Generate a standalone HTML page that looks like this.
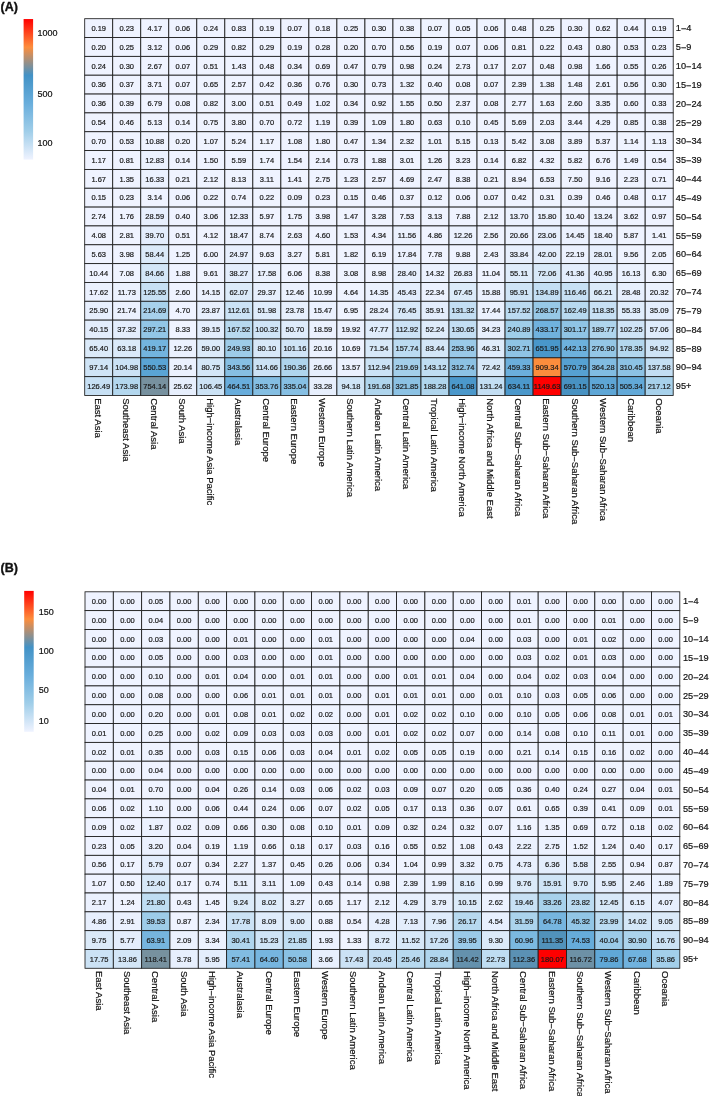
<!DOCTYPE html>
<html lang="en"><head><meta charset="utf-8"><title>Heatmap</title>
<style>html,body{margin:0;padding:0;background:#fff}body{width:709px;height:1096px;overflow:hidden}svg{display:block}</style>
</head><body>
<svg width="709" height="1096" viewBox="0 0 709 1096" font-family="'Liberation Sans', Arial, Helvetica, sans-serif">
<defs><linearGradient id="lg" x1="0" y1="1" x2="0" y2="0">
<stop offset="0.000" stop-color="#EFF3FF"/>
<stop offset="0.200" stop-color="#A0CEE9"/>
<stop offset="0.400" stop-color="#69AEDC"/>
<stop offset="0.600" stop-color="#4292C6"/>
<stop offset="0.800" stop-color="#FD8D3C"/>
<stop offset="1.000" stop-color="#FF0000"/>
</linearGradient></defs>
<rect width="709" height="1096" fill="#fff"/>
<text x="0.6" y="10.8" font-size="12.5" font-weight="bold" fill="#111" stroke="#111" stroke-width="0.35">(A)</text>
<rect x="23.6" y="19.05" width="9.50" height="140.55" fill="url(#lg)"/>
<g font-size="9" fill="#111" stroke="#111" stroke-width="0.2">
<text x="37.4" y="36.10">1000</text>
<text x="37.4" y="97.40">500</text>
<text x="37.4" y="146.00">100</text>
</g>
<g stroke="#1c1c1c" stroke-width="0.85">
<rect x="84.70" y="18.70" width="28.02" height="18.84" fill="#eff3ff"/>
<rect x="112.72" y="18.70" width="28.02" height="18.84" fill="#eff3ff"/>
<rect x="140.75" y="18.70" width="28.02" height="18.84" fill="#eff3ff"/>
<rect x="168.77" y="18.70" width="28.02" height="18.84" fill="#eff3ff"/>
<rect x="196.80" y="18.70" width="28.02" height="18.84" fill="#eff3ff"/>
<rect x="224.82" y="18.70" width="28.02" height="18.84" fill="#eff3ff"/>
<rect x="252.84" y="18.70" width="28.02" height="18.84" fill="#eff3ff"/>
<rect x="280.87" y="18.70" width="28.02" height="18.84" fill="#eff3ff"/>
<rect x="308.89" y="18.70" width="28.02" height="18.84" fill="#eff3ff"/>
<rect x="336.91" y="18.70" width="28.02" height="18.84" fill="#eff3ff"/>
<rect x="364.94" y="18.70" width="28.02" height="18.84" fill="#eff3ff"/>
<rect x="392.96" y="18.70" width="28.02" height="18.84" fill="#eff3ff"/>
<rect x="420.99" y="18.70" width="28.02" height="18.84" fill="#eff3ff"/>
<rect x="449.01" y="18.70" width="28.02" height="18.84" fill="#eff3ff"/>
<rect x="477.03" y="18.70" width="28.02" height="18.84" fill="#eff3ff"/>
<rect x="505.06" y="18.70" width="28.02" height="18.84" fill="#eff3ff"/>
<rect x="533.08" y="18.70" width="28.02" height="18.84" fill="#eff3ff"/>
<rect x="561.10" y="18.70" width="28.02" height="18.84" fill="#eff3ff"/>
<rect x="589.13" y="18.70" width="28.02" height="18.84" fill="#eff3ff"/>
<rect x="617.15" y="18.70" width="28.02" height="18.84" fill="#eff3ff"/>
<rect x="645.18" y="18.70" width="28.02" height="18.84" fill="#eff3ff"/>
<rect x="84.70" y="37.54" width="28.02" height="18.84" fill="#eff3ff"/>
<rect x="112.72" y="37.54" width="28.02" height="18.84" fill="#eff3ff"/>
<rect x="140.75" y="37.54" width="28.02" height="18.84" fill="#eff3ff"/>
<rect x="168.77" y="37.54" width="28.02" height="18.84" fill="#eff3ff"/>
<rect x="196.80" y="37.54" width="28.02" height="18.84" fill="#eff3ff"/>
<rect x="224.82" y="37.54" width="28.02" height="18.84" fill="#eff3ff"/>
<rect x="252.84" y="37.54" width="28.02" height="18.84" fill="#eff3ff"/>
<rect x="280.87" y="37.54" width="28.02" height="18.84" fill="#eff3ff"/>
<rect x="308.89" y="37.54" width="28.02" height="18.84" fill="#eff3ff"/>
<rect x="336.91" y="37.54" width="28.02" height="18.84" fill="#eff3ff"/>
<rect x="364.94" y="37.54" width="28.02" height="18.84" fill="#eff3ff"/>
<rect x="392.96" y="37.54" width="28.02" height="18.84" fill="#eff3ff"/>
<rect x="420.99" y="37.54" width="28.02" height="18.84" fill="#eff3ff"/>
<rect x="449.01" y="37.54" width="28.02" height="18.84" fill="#eff3ff"/>
<rect x="477.03" y="37.54" width="28.02" height="18.84" fill="#eff3ff"/>
<rect x="505.06" y="37.54" width="28.02" height="18.84" fill="#eff3ff"/>
<rect x="533.08" y="37.54" width="28.02" height="18.84" fill="#eff3ff"/>
<rect x="561.10" y="37.54" width="28.02" height="18.84" fill="#eff3ff"/>
<rect x="589.13" y="37.54" width="28.02" height="18.84" fill="#eff3ff"/>
<rect x="617.15" y="37.54" width="28.02" height="18.84" fill="#eff3ff"/>
<rect x="645.18" y="37.54" width="28.02" height="18.84" fill="#eff3ff"/>
<rect x="84.70" y="56.38" width="28.02" height="18.84" fill="#eff3ff"/>
<rect x="112.72" y="56.38" width="28.02" height="18.84" fill="#eff3ff"/>
<rect x="140.75" y="56.38" width="28.02" height="18.84" fill="#eff3ff"/>
<rect x="168.77" y="56.38" width="28.02" height="18.84" fill="#eff3ff"/>
<rect x="196.80" y="56.38" width="28.02" height="18.84" fill="#eff3ff"/>
<rect x="224.82" y="56.38" width="28.02" height="18.84" fill="#eff3ff"/>
<rect x="252.84" y="56.38" width="28.02" height="18.84" fill="#eff3ff"/>
<rect x="280.87" y="56.38" width="28.02" height="18.84" fill="#eff3ff"/>
<rect x="308.89" y="56.38" width="28.02" height="18.84" fill="#eff3ff"/>
<rect x="336.91" y="56.38" width="28.02" height="18.84" fill="#eff3ff"/>
<rect x="364.94" y="56.38" width="28.02" height="18.84" fill="#eff3ff"/>
<rect x="392.96" y="56.38" width="28.02" height="18.84" fill="#eff3ff"/>
<rect x="420.99" y="56.38" width="28.02" height="18.84" fill="#eff3ff"/>
<rect x="449.01" y="56.38" width="28.02" height="18.84" fill="#eff3ff"/>
<rect x="477.03" y="56.38" width="28.02" height="18.84" fill="#eff3ff"/>
<rect x="505.06" y="56.38" width="28.02" height="18.84" fill="#eff3ff"/>
<rect x="533.08" y="56.38" width="28.02" height="18.84" fill="#eff3ff"/>
<rect x="561.10" y="56.38" width="28.02" height="18.84" fill="#eff3ff"/>
<rect x="589.13" y="56.38" width="28.02" height="18.84" fill="#eff3ff"/>
<rect x="617.15" y="56.38" width="28.02" height="18.84" fill="#eff3ff"/>
<rect x="645.18" y="56.38" width="28.02" height="18.84" fill="#eff3ff"/>
<rect x="84.70" y="75.22" width="28.02" height="18.84" fill="#eff3ff"/>
<rect x="112.72" y="75.22" width="28.02" height="18.84" fill="#eff3ff"/>
<rect x="140.75" y="75.22" width="28.02" height="18.84" fill="#eff3ff"/>
<rect x="168.77" y="75.22" width="28.02" height="18.84" fill="#eff3ff"/>
<rect x="196.80" y="75.22" width="28.02" height="18.84" fill="#eff3ff"/>
<rect x="224.82" y="75.22" width="28.02" height="18.84" fill="#eff3ff"/>
<rect x="252.84" y="75.22" width="28.02" height="18.84" fill="#eff3ff"/>
<rect x="280.87" y="75.22" width="28.02" height="18.84" fill="#eff3ff"/>
<rect x="308.89" y="75.22" width="28.02" height="18.84" fill="#eff3ff"/>
<rect x="336.91" y="75.22" width="28.02" height="18.84" fill="#eff3ff"/>
<rect x="364.94" y="75.22" width="28.02" height="18.84" fill="#eff3ff"/>
<rect x="392.96" y="75.22" width="28.02" height="18.84" fill="#eff3ff"/>
<rect x="420.99" y="75.22" width="28.02" height="18.84" fill="#eff3ff"/>
<rect x="449.01" y="75.22" width="28.02" height="18.84" fill="#eff3ff"/>
<rect x="477.03" y="75.22" width="28.02" height="18.84" fill="#eff3ff"/>
<rect x="505.06" y="75.22" width="28.02" height="18.84" fill="#eff3ff"/>
<rect x="533.08" y="75.22" width="28.02" height="18.84" fill="#eff3ff"/>
<rect x="561.10" y="75.22" width="28.02" height="18.84" fill="#eff3ff"/>
<rect x="589.13" y="75.22" width="28.02" height="18.84" fill="#eff3ff"/>
<rect x="617.15" y="75.22" width="28.02" height="18.84" fill="#eff3ff"/>
<rect x="645.18" y="75.22" width="28.02" height="18.84" fill="#eff3ff"/>
<rect x="84.70" y="94.06" width="28.02" height="18.84" fill="#eff3ff"/>
<rect x="112.72" y="94.06" width="28.02" height="18.84" fill="#eff3ff"/>
<rect x="140.75" y="94.06" width="28.02" height="18.84" fill="#eff3ff"/>
<rect x="168.77" y="94.06" width="28.02" height="18.84" fill="#eff3ff"/>
<rect x="196.80" y="94.06" width="28.02" height="18.84" fill="#eff3ff"/>
<rect x="224.82" y="94.06" width="28.02" height="18.84" fill="#eff3ff"/>
<rect x="252.84" y="94.06" width="28.02" height="18.84" fill="#eff3ff"/>
<rect x="280.87" y="94.06" width="28.02" height="18.84" fill="#eff3ff"/>
<rect x="308.89" y="94.06" width="28.02" height="18.84" fill="#eff3ff"/>
<rect x="336.91" y="94.06" width="28.02" height="18.84" fill="#eff3ff"/>
<rect x="364.94" y="94.06" width="28.02" height="18.84" fill="#eff3ff"/>
<rect x="392.96" y="94.06" width="28.02" height="18.84" fill="#eff3ff"/>
<rect x="420.99" y="94.06" width="28.02" height="18.84" fill="#eff3ff"/>
<rect x="449.01" y="94.06" width="28.02" height="18.84" fill="#eff3ff"/>
<rect x="477.03" y="94.06" width="28.02" height="18.84" fill="#eff3ff"/>
<rect x="505.06" y="94.06" width="28.02" height="18.84" fill="#eff3ff"/>
<rect x="533.08" y="94.06" width="28.02" height="18.84" fill="#eff3ff"/>
<rect x="561.10" y="94.06" width="28.02" height="18.84" fill="#eff3ff"/>
<rect x="589.13" y="94.06" width="28.02" height="18.84" fill="#eff3ff"/>
<rect x="617.15" y="94.06" width="28.02" height="18.84" fill="#eff3ff"/>
<rect x="645.18" y="94.06" width="28.02" height="18.84" fill="#eff3ff"/>
<rect x="84.70" y="112.90" width="28.02" height="18.84" fill="#eff3ff"/>
<rect x="112.72" y="112.90" width="28.02" height="18.84" fill="#eff3ff"/>
<rect x="140.75" y="112.90" width="28.02" height="18.84" fill="#eff3ff"/>
<rect x="168.77" y="112.90" width="28.02" height="18.84" fill="#eff3ff"/>
<rect x="196.80" y="112.90" width="28.02" height="18.84" fill="#eff3ff"/>
<rect x="224.82" y="112.90" width="28.02" height="18.84" fill="#eff3ff"/>
<rect x="252.84" y="112.90" width="28.02" height="18.84" fill="#eff3ff"/>
<rect x="280.87" y="112.90" width="28.02" height="18.84" fill="#eff3ff"/>
<rect x="308.89" y="112.90" width="28.02" height="18.84" fill="#eff3ff"/>
<rect x="336.91" y="112.90" width="28.02" height="18.84" fill="#eff3ff"/>
<rect x="364.94" y="112.90" width="28.02" height="18.84" fill="#eff3ff"/>
<rect x="392.96" y="112.90" width="28.02" height="18.84" fill="#eff3ff"/>
<rect x="420.99" y="112.90" width="28.02" height="18.84" fill="#eff3ff"/>
<rect x="449.01" y="112.90" width="28.02" height="18.84" fill="#eff3ff"/>
<rect x="477.03" y="112.90" width="28.02" height="18.84" fill="#eff3ff"/>
<rect x="505.06" y="112.90" width="28.02" height="18.84" fill="#eff3ff"/>
<rect x="533.08" y="112.90" width="28.02" height="18.84" fill="#eff3ff"/>
<rect x="561.10" y="112.90" width="28.02" height="18.84" fill="#eff3ff"/>
<rect x="589.13" y="112.90" width="28.02" height="18.84" fill="#eff3ff"/>
<rect x="617.15" y="112.90" width="28.02" height="18.84" fill="#eff3ff"/>
<rect x="645.18" y="112.90" width="28.02" height="18.84" fill="#eff3ff"/>
<rect x="84.70" y="131.74" width="28.02" height="18.84" fill="#eff3ff"/>
<rect x="112.72" y="131.74" width="28.02" height="18.84" fill="#eff3ff"/>
<rect x="140.75" y="131.74" width="28.02" height="18.84" fill="#eff3ff"/>
<rect x="168.77" y="131.74" width="28.02" height="18.84" fill="#eff3ff"/>
<rect x="196.80" y="131.74" width="28.02" height="18.84" fill="#eff3ff"/>
<rect x="224.82" y="131.74" width="28.02" height="18.84" fill="#eff3ff"/>
<rect x="252.84" y="131.74" width="28.02" height="18.84" fill="#eff3ff"/>
<rect x="280.87" y="131.74" width="28.02" height="18.84" fill="#eff3ff"/>
<rect x="308.89" y="131.74" width="28.02" height="18.84" fill="#eff3ff"/>
<rect x="336.91" y="131.74" width="28.02" height="18.84" fill="#eff3ff"/>
<rect x="364.94" y="131.74" width="28.02" height="18.84" fill="#eff3ff"/>
<rect x="392.96" y="131.74" width="28.02" height="18.84" fill="#eff3ff"/>
<rect x="420.99" y="131.74" width="28.02" height="18.84" fill="#eff3ff"/>
<rect x="449.01" y="131.74" width="28.02" height="18.84" fill="#eff3ff"/>
<rect x="477.03" y="131.74" width="28.02" height="18.84" fill="#eff3ff"/>
<rect x="505.06" y="131.74" width="28.02" height="18.84" fill="#eff3ff"/>
<rect x="533.08" y="131.74" width="28.02" height="18.84" fill="#eff3ff"/>
<rect x="561.10" y="131.74" width="28.02" height="18.84" fill="#eff3ff"/>
<rect x="589.13" y="131.74" width="28.02" height="18.84" fill="#eff3ff"/>
<rect x="617.15" y="131.74" width="28.02" height="18.84" fill="#eff3ff"/>
<rect x="645.18" y="131.74" width="28.02" height="18.84" fill="#eff3ff"/>
<rect x="84.70" y="150.58" width="28.02" height="18.84" fill="#eff3ff"/>
<rect x="112.72" y="150.58" width="28.02" height="18.84" fill="#eff3ff"/>
<rect x="140.75" y="150.58" width="28.02" height="18.84" fill="#ebf1fe"/>
<rect x="168.77" y="150.58" width="28.02" height="18.84" fill="#eff3ff"/>
<rect x="196.80" y="150.58" width="28.02" height="18.84" fill="#eff3ff"/>
<rect x="224.82" y="150.58" width="28.02" height="18.84" fill="#eff3ff"/>
<rect x="252.84" y="150.58" width="28.02" height="18.84" fill="#eff3ff"/>
<rect x="280.87" y="150.58" width="28.02" height="18.84" fill="#eff3ff"/>
<rect x="308.89" y="150.58" width="28.02" height="18.84" fill="#eff3ff"/>
<rect x="336.91" y="150.58" width="28.02" height="18.84" fill="#eff3ff"/>
<rect x="364.94" y="150.58" width="28.02" height="18.84" fill="#eff3ff"/>
<rect x="392.96" y="150.58" width="28.02" height="18.84" fill="#eff3ff"/>
<rect x="420.99" y="150.58" width="28.02" height="18.84" fill="#eff3ff"/>
<rect x="449.01" y="150.58" width="28.02" height="18.84" fill="#eff3ff"/>
<rect x="477.03" y="150.58" width="28.02" height="18.84" fill="#eff3ff"/>
<rect x="505.06" y="150.58" width="28.02" height="18.84" fill="#eff3ff"/>
<rect x="533.08" y="150.58" width="28.02" height="18.84" fill="#eff3ff"/>
<rect x="561.10" y="150.58" width="28.02" height="18.84" fill="#eff3ff"/>
<rect x="589.13" y="150.58" width="28.02" height="18.84" fill="#eff3ff"/>
<rect x="617.15" y="150.58" width="28.02" height="18.84" fill="#eff3ff"/>
<rect x="645.18" y="150.58" width="28.02" height="18.84" fill="#eff3ff"/>
<rect x="84.70" y="169.42" width="28.02" height="18.84" fill="#eff3ff"/>
<rect x="112.72" y="169.42" width="28.02" height="18.84" fill="#eff3ff"/>
<rect x="140.75" y="169.42" width="28.02" height="18.84" fill="#ebf1fe"/>
<rect x="168.77" y="169.42" width="28.02" height="18.84" fill="#eff3ff"/>
<rect x="196.80" y="169.42" width="28.02" height="18.84" fill="#eff3ff"/>
<rect x="224.82" y="169.42" width="28.02" height="18.84" fill="#eff3ff"/>
<rect x="252.84" y="169.42" width="28.02" height="18.84" fill="#eff3ff"/>
<rect x="280.87" y="169.42" width="28.02" height="18.84" fill="#eff3ff"/>
<rect x="308.89" y="169.42" width="28.02" height="18.84" fill="#eff3ff"/>
<rect x="336.91" y="169.42" width="28.02" height="18.84" fill="#eff3ff"/>
<rect x="364.94" y="169.42" width="28.02" height="18.84" fill="#eff3ff"/>
<rect x="392.96" y="169.42" width="28.02" height="18.84" fill="#eff3ff"/>
<rect x="420.99" y="169.42" width="28.02" height="18.84" fill="#eff3ff"/>
<rect x="449.01" y="169.42" width="28.02" height="18.84" fill="#eff3ff"/>
<rect x="477.03" y="169.42" width="28.02" height="18.84" fill="#eff3ff"/>
<rect x="505.06" y="169.42" width="28.02" height="18.84" fill="#eff3ff"/>
<rect x="533.08" y="169.42" width="28.02" height="18.84" fill="#eff3ff"/>
<rect x="561.10" y="169.42" width="28.02" height="18.84" fill="#eff3ff"/>
<rect x="589.13" y="169.42" width="28.02" height="18.84" fill="#eff3ff"/>
<rect x="617.15" y="169.42" width="28.02" height="18.84" fill="#eff3ff"/>
<rect x="645.18" y="169.42" width="28.02" height="18.84" fill="#eff3ff"/>
<rect x="84.70" y="188.26" width="28.02" height="18.84" fill="#eff3ff"/>
<rect x="112.72" y="188.26" width="28.02" height="18.84" fill="#eff3ff"/>
<rect x="140.75" y="188.26" width="28.02" height="18.84" fill="#eff3ff"/>
<rect x="168.77" y="188.26" width="28.02" height="18.84" fill="#eff3ff"/>
<rect x="196.80" y="188.26" width="28.02" height="18.84" fill="#eff3ff"/>
<rect x="224.82" y="188.26" width="28.02" height="18.84" fill="#eff3ff"/>
<rect x="252.84" y="188.26" width="28.02" height="18.84" fill="#eff3ff"/>
<rect x="280.87" y="188.26" width="28.02" height="18.84" fill="#eff3ff"/>
<rect x="308.89" y="188.26" width="28.02" height="18.84" fill="#eff3ff"/>
<rect x="336.91" y="188.26" width="28.02" height="18.84" fill="#eff3ff"/>
<rect x="364.94" y="188.26" width="28.02" height="18.84" fill="#eff3ff"/>
<rect x="392.96" y="188.26" width="28.02" height="18.84" fill="#eff3ff"/>
<rect x="420.99" y="188.26" width="28.02" height="18.84" fill="#eff3ff"/>
<rect x="449.01" y="188.26" width="28.02" height="18.84" fill="#eff3ff"/>
<rect x="477.03" y="188.26" width="28.02" height="18.84" fill="#eff3ff"/>
<rect x="505.06" y="188.26" width="28.02" height="18.84" fill="#eff3ff"/>
<rect x="533.08" y="188.26" width="28.02" height="18.84" fill="#eff3ff"/>
<rect x="561.10" y="188.26" width="28.02" height="18.84" fill="#eff3ff"/>
<rect x="589.13" y="188.26" width="28.02" height="18.84" fill="#eff3ff"/>
<rect x="617.15" y="188.26" width="28.02" height="18.84" fill="#eff3ff"/>
<rect x="645.18" y="188.26" width="28.02" height="18.84" fill="#eff3ff"/>
<rect x="84.70" y="207.10" width="28.02" height="18.84" fill="#eff3ff"/>
<rect x="112.72" y="207.10" width="28.02" height="18.84" fill="#eff3ff"/>
<rect x="140.75" y="207.10" width="28.02" height="18.84" fill="#e7effd"/>
<rect x="168.77" y="207.10" width="28.02" height="18.84" fill="#eff3ff"/>
<rect x="196.80" y="207.10" width="28.02" height="18.84" fill="#eff3ff"/>
<rect x="224.82" y="207.10" width="28.02" height="18.84" fill="#ebf1fe"/>
<rect x="252.84" y="207.10" width="28.02" height="18.84" fill="#eff3ff"/>
<rect x="280.87" y="207.10" width="28.02" height="18.84" fill="#eff3ff"/>
<rect x="308.89" y="207.10" width="28.02" height="18.84" fill="#eff3ff"/>
<rect x="336.91" y="207.10" width="28.02" height="18.84" fill="#eff3ff"/>
<rect x="364.94" y="207.10" width="28.02" height="18.84" fill="#eff3ff"/>
<rect x="392.96" y="207.10" width="28.02" height="18.84" fill="#eff3ff"/>
<rect x="420.99" y="207.10" width="28.02" height="18.84" fill="#eff3ff"/>
<rect x="449.01" y="207.10" width="28.02" height="18.84" fill="#eff3ff"/>
<rect x="477.03" y="207.10" width="28.02" height="18.84" fill="#eff3ff"/>
<rect x="505.06" y="207.10" width="28.02" height="18.84" fill="#ebf1fe"/>
<rect x="533.08" y="207.10" width="28.02" height="18.84" fill="#ebf1fe"/>
<rect x="561.10" y="207.10" width="28.02" height="18.84" fill="#eff3ff"/>
<rect x="589.13" y="207.10" width="28.02" height="18.84" fill="#ebf1fe"/>
<rect x="617.15" y="207.10" width="28.02" height="18.84" fill="#eff3ff"/>
<rect x="645.18" y="207.10" width="28.02" height="18.84" fill="#eff3ff"/>
<rect x="84.70" y="225.94" width="28.02" height="18.84" fill="#eff3ff"/>
<rect x="112.72" y="225.94" width="28.02" height="18.84" fill="#eff3ff"/>
<rect x="140.75" y="225.94" width="28.02" height="18.84" fill="#e3edfc"/>
<rect x="168.77" y="225.94" width="28.02" height="18.84" fill="#eff3ff"/>
<rect x="196.80" y="225.94" width="28.02" height="18.84" fill="#eff3ff"/>
<rect x="224.82" y="225.94" width="28.02" height="18.84" fill="#ebf1fe"/>
<rect x="252.84" y="225.94" width="28.02" height="18.84" fill="#eff3ff"/>
<rect x="280.87" y="225.94" width="28.02" height="18.84" fill="#eff3ff"/>
<rect x="308.89" y="225.94" width="28.02" height="18.84" fill="#eff3ff"/>
<rect x="336.91" y="225.94" width="28.02" height="18.84" fill="#eff3ff"/>
<rect x="364.94" y="225.94" width="28.02" height="18.84" fill="#eff3ff"/>
<rect x="392.96" y="225.94" width="28.02" height="18.84" fill="#ebf1fe"/>
<rect x="420.99" y="225.94" width="28.02" height="18.84" fill="#eff3ff"/>
<rect x="449.01" y="225.94" width="28.02" height="18.84" fill="#ebf1fe"/>
<rect x="477.03" y="225.94" width="28.02" height="18.84" fill="#eff3ff"/>
<rect x="505.06" y="225.94" width="28.02" height="18.84" fill="#ebf1fe"/>
<rect x="533.08" y="225.94" width="28.02" height="18.84" fill="#e7effd"/>
<rect x="561.10" y="225.94" width="28.02" height="18.84" fill="#ebf1fe"/>
<rect x="589.13" y="225.94" width="28.02" height="18.84" fill="#ebf1fe"/>
<rect x="617.15" y="225.94" width="28.02" height="18.84" fill="#eff3ff"/>
<rect x="645.18" y="225.94" width="28.02" height="18.84" fill="#eff3ff"/>
<rect x="84.70" y="244.78" width="28.02" height="18.84" fill="#eff3ff"/>
<rect x="112.72" y="244.78" width="28.02" height="18.84" fill="#eff3ff"/>
<rect x="140.75" y="244.78" width="28.02" height="18.84" fill="#dbeaf9"/>
<rect x="168.77" y="244.78" width="28.02" height="18.84" fill="#eff3ff"/>
<rect x="196.80" y="244.78" width="28.02" height="18.84" fill="#eff3ff"/>
<rect x="224.82" y="244.78" width="28.02" height="18.84" fill="#e7effd"/>
<rect x="252.84" y="244.78" width="28.02" height="18.84" fill="#eff3ff"/>
<rect x="280.87" y="244.78" width="28.02" height="18.84" fill="#eff3ff"/>
<rect x="308.89" y="244.78" width="28.02" height="18.84" fill="#eff3ff"/>
<rect x="336.91" y="244.78" width="28.02" height="18.84" fill="#eff3ff"/>
<rect x="364.94" y="244.78" width="28.02" height="18.84" fill="#eff3ff"/>
<rect x="392.96" y="244.78" width="28.02" height="18.84" fill="#ebf1fe"/>
<rect x="420.99" y="244.78" width="28.02" height="18.84" fill="#eff3ff"/>
<rect x="449.01" y="244.78" width="28.02" height="18.84" fill="#eff3ff"/>
<rect x="477.03" y="244.78" width="28.02" height="18.84" fill="#eff3ff"/>
<rect x="505.06" y="244.78" width="28.02" height="18.84" fill="#e7effd"/>
<rect x="533.08" y="244.78" width="28.02" height="18.84" fill="#e3edfc"/>
<rect x="561.10" y="244.78" width="28.02" height="18.84" fill="#ebf1fe"/>
<rect x="589.13" y="244.78" width="28.02" height="18.84" fill="#e7effd"/>
<rect x="617.15" y="244.78" width="28.02" height="18.84" fill="#eff3ff"/>
<rect x="645.18" y="244.78" width="28.02" height="18.84" fill="#eff3ff"/>
<rect x="84.70" y="263.62" width="28.02" height="18.84" fill="#eff3ff"/>
<rect x="112.72" y="263.62" width="28.02" height="18.84" fill="#eff3ff"/>
<rect x="140.75" y="263.62" width="28.02" height="18.84" fill="#d3e6f7"/>
<rect x="168.77" y="263.62" width="28.02" height="18.84" fill="#eff3ff"/>
<rect x="196.80" y="263.62" width="28.02" height="18.84" fill="#eff3ff"/>
<rect x="224.82" y="263.62" width="28.02" height="18.84" fill="#e3edfc"/>
<rect x="252.84" y="263.62" width="28.02" height="18.84" fill="#ebf1fe"/>
<rect x="280.87" y="263.62" width="28.02" height="18.84" fill="#eff3ff"/>
<rect x="308.89" y="263.62" width="28.02" height="18.84" fill="#eff3ff"/>
<rect x="336.91" y="263.62" width="28.02" height="18.84" fill="#eff3ff"/>
<rect x="364.94" y="263.62" width="28.02" height="18.84" fill="#eff3ff"/>
<rect x="392.96" y="263.62" width="28.02" height="18.84" fill="#e7effd"/>
<rect x="420.99" y="263.62" width="28.02" height="18.84" fill="#ebf1fe"/>
<rect x="449.01" y="263.62" width="28.02" height="18.84" fill="#e7effd"/>
<rect x="477.03" y="263.62" width="28.02" height="18.84" fill="#eff3ff"/>
<rect x="505.06" y="263.62" width="28.02" height="18.84" fill="#dfecfb"/>
<rect x="533.08" y="263.62" width="28.02" height="18.84" fill="#d7e8f8"/>
<rect x="561.10" y="263.62" width="28.02" height="18.84" fill="#e3edfc"/>
<rect x="589.13" y="263.62" width="28.02" height="18.84" fill="#e3edfc"/>
<rect x="617.15" y="263.62" width="28.02" height="18.84" fill="#ebf1fe"/>
<rect x="645.18" y="263.62" width="28.02" height="18.84" fill="#eff3ff"/>
<rect x="84.70" y="282.46" width="28.02" height="18.84" fill="#ebf1fe"/>
<rect x="112.72" y="282.46" width="28.02" height="18.84" fill="#ebf1fe"/>
<rect x="140.75" y="282.46" width="28.02" height="18.84" fill="#c7e0f4"/>
<rect x="168.77" y="282.46" width="28.02" height="18.84" fill="#eff3ff"/>
<rect x="196.80" y="282.46" width="28.02" height="18.84" fill="#ebf1fe"/>
<rect x="224.82" y="282.46" width="28.02" height="18.84" fill="#dbeaf9"/>
<rect x="252.84" y="282.46" width="28.02" height="18.84" fill="#e7effd"/>
<rect x="280.87" y="282.46" width="28.02" height="18.84" fill="#ebf1fe"/>
<rect x="308.89" y="282.46" width="28.02" height="18.84" fill="#eff3ff"/>
<rect x="336.91" y="282.46" width="28.02" height="18.84" fill="#eff3ff"/>
<rect x="364.94" y="282.46" width="28.02" height="18.84" fill="#ebf1fe"/>
<rect x="392.96" y="282.46" width="28.02" height="18.84" fill="#e3edfc"/>
<rect x="420.99" y="282.46" width="28.02" height="18.84" fill="#ebf1fe"/>
<rect x="449.01" y="282.46" width="28.02" height="18.84" fill="#dbeaf9"/>
<rect x="477.03" y="282.46" width="28.02" height="18.84" fill="#ebf1fe"/>
<rect x="505.06" y="282.46" width="28.02" height="18.84" fill="#cfe4f6"/>
<rect x="533.08" y="282.46" width="28.02" height="18.84" fill="#c3def3"/>
<rect x="561.10" y="282.46" width="28.02" height="18.84" fill="#c7e0f4"/>
<rect x="589.13" y="282.46" width="28.02" height="18.84" fill="#dbeaf9"/>
<rect x="617.15" y="282.46" width="28.02" height="18.84" fill="#e7effd"/>
<rect x="645.18" y="282.46" width="28.02" height="18.84" fill="#ebf1fe"/>
<rect x="84.70" y="301.30" width="28.02" height="18.84" fill="#e7effd"/>
<rect x="112.72" y="301.30" width="28.02" height="18.84" fill="#ebf1fe"/>
<rect x="140.75" y="301.30" width="28.02" height="18.84" fill="#a7d1eb"/>
<rect x="168.77" y="301.30" width="28.02" height="18.84" fill="#eff3ff"/>
<rect x="196.80" y="301.30" width="28.02" height="18.84" fill="#e7effd"/>
<rect x="224.82" y="301.30" width="28.02" height="18.84" fill="#cbe2f5"/>
<rect x="252.84" y="301.30" width="28.02" height="18.84" fill="#dfecfb"/>
<rect x="280.87" y="301.30" width="28.02" height="18.84" fill="#e7effd"/>
<rect x="308.89" y="301.30" width="28.02" height="18.84" fill="#ebf1fe"/>
<rect x="336.91" y="301.30" width="28.02" height="18.84" fill="#eff3ff"/>
<rect x="364.94" y="301.30" width="28.02" height="18.84" fill="#e7effd"/>
<rect x="392.96" y="301.30" width="28.02" height="18.84" fill="#d7e8f8"/>
<rect x="420.99" y="301.30" width="28.02" height="18.84" fill="#e3edfc"/>
<rect x="449.01" y="301.30" width="28.02" height="18.84" fill="#c3def3"/>
<rect x="477.03" y="301.30" width="28.02" height="18.84" fill="#ebf1fe"/>
<rect x="505.06" y="301.30" width="28.02" height="18.84" fill="#bbdbf1"/>
<rect x="533.08" y="301.30" width="28.02" height="18.84" fill="#97c9e7"/>
<rect x="561.10" y="301.30" width="28.02" height="18.84" fill="#b7d9ef"/>
<rect x="589.13" y="301.30" width="28.02" height="18.84" fill="#c7e0f4"/>
<rect x="617.15" y="301.30" width="28.02" height="18.84" fill="#dfecfb"/>
<rect x="645.18" y="301.30" width="28.02" height="18.84" fill="#e3edfc"/>
<rect x="84.70" y="320.14" width="28.02" height="18.84" fill="#e3edfc"/>
<rect x="112.72" y="320.14" width="28.02" height="18.84" fill="#e3edfc"/>
<rect x="140.75" y="320.14" width="28.02" height="18.84" fill="#92c6e6"/>
<rect x="168.77" y="320.14" width="28.02" height="18.84" fill="#eff3ff"/>
<rect x="196.80" y="320.14" width="28.02" height="18.84" fill="#e3edfc"/>
<rect x="224.82" y="320.14" width="28.02" height="18.84" fill="#b7d9ef"/>
<rect x="252.84" y="320.14" width="28.02" height="18.84" fill="#cfe4f6"/>
<rect x="280.87" y="320.14" width="28.02" height="18.84" fill="#dfecfb"/>
<rect x="308.89" y="320.14" width="28.02" height="18.84" fill="#ebf1fe"/>
<rect x="336.91" y="320.14" width="28.02" height="18.84" fill="#ebf1fe"/>
<rect x="364.94" y="320.14" width="28.02" height="18.84" fill="#dfecfb"/>
<rect x="392.96" y="320.14" width="28.02" height="18.84" fill="#cbe2f5"/>
<rect x="420.99" y="320.14" width="28.02" height="18.84" fill="#dfecfb"/>
<rect x="449.01" y="320.14" width="28.02" height="18.84" fill="#c3def3"/>
<rect x="477.03" y="320.14" width="28.02" height="18.84" fill="#e7effd"/>
<rect x="505.06" y="320.14" width="28.02" height="18.84" fill="#9fcee9"/>
<rect x="533.08" y="320.14" width="28.02" height="18.84" fill="#70b2de"/>
<rect x="561.10" y="320.14" width="28.02" height="18.84" fill="#8fc4e5"/>
<rect x="589.13" y="320.14" width="28.02" height="18.84" fill="#afd5ed"/>
<rect x="617.15" y="320.14" width="28.02" height="18.84" fill="#cfe4f6"/>
<rect x="645.18" y="320.14" width="28.02" height="18.84" fill="#dfecfb"/>
<rect x="84.70" y="338.98" width="28.02" height="18.84" fill="#dbeaf9"/>
<rect x="112.72" y="338.98" width="28.02" height="18.84" fill="#dbeaf9"/>
<rect x="140.75" y="338.98" width="28.02" height="18.84" fill="#73b4de"/>
<rect x="168.77" y="338.98" width="28.02" height="18.84" fill="#ebf1fe"/>
<rect x="196.80" y="338.98" width="28.02" height="18.84" fill="#dbeaf9"/>
<rect x="224.82" y="338.98" width="28.02" height="18.84" fill="#9dcce8"/>
<rect x="252.84" y="338.98" width="28.02" height="18.84" fill="#d7e8f8"/>
<rect x="280.87" y="338.98" width="28.02" height="18.84" fill="#cfe4f6"/>
<rect x="308.89" y="338.98" width="28.02" height="18.84" fill="#ebf1fe"/>
<rect x="336.91" y="338.98" width="28.02" height="18.84" fill="#eff3ff"/>
<rect x="364.94" y="338.98" width="28.02" height="18.84" fill="#d7e8f8"/>
<rect x="392.96" y="338.98" width="28.02" height="18.84" fill="#bbdbf1"/>
<rect x="420.99" y="338.98" width="28.02" height="18.84" fill="#d3e6f7"/>
<rect x="449.01" y="338.98" width="28.02" height="18.84" fill="#9acae8"/>
<rect x="477.03" y="338.98" width="28.02" height="18.84" fill="#dfecfb"/>
<rect x="505.06" y="338.98" width="28.02" height="18.84" fill="#8fc4e5"/>
<rect x="533.08" y="338.98" width="28.02" height="18.84" fill="#4997ca"/>
<rect x="561.10" y="338.98" width="28.02" height="18.84" fill="#6db1dd"/>
<rect x="589.13" y="338.98" width="28.02" height="18.84" fill="#94c7e6"/>
<rect x="617.15" y="338.98" width="28.02" height="18.84" fill="#b3d7ee"/>
<rect x="645.18" y="338.98" width="28.02" height="18.84" fill="#cfe4f6"/>
<rect x="84.70" y="357.82" width="28.02" height="18.84" fill="#cfe4f6"/>
<rect x="112.72" y="357.82" width="28.02" height="18.84" fill="#cbe2f5"/>
<rect x="140.75" y="357.82" width="28.02" height="18.84" fill="#5aa4d4"/>
<rect x="168.77" y="357.82" width="28.02" height="18.84" fill="#ebf1fe"/>
<rect x="196.80" y="357.82" width="28.02" height="18.84" fill="#d3e6f7"/>
<rect x="224.82" y="357.82" width="28.02" height="18.84" fill="#86bfe3"/>
<rect x="252.84" y="357.82" width="28.02" height="18.84" fill="#cbe2f5"/>
<rect x="280.87" y="357.82" width="28.02" height="18.84" fill="#afd5ed"/>
<rect x="308.89" y="357.82" width="28.02" height="18.84" fill="#e7effd"/>
<rect x="336.91" y="357.82" width="28.02" height="18.84" fill="#ebf1fe"/>
<rect x="364.94" y="357.82" width="28.02" height="18.84" fill="#cbe2f5"/>
<rect x="392.96" y="357.82" width="28.02" height="18.84" fill="#a3cfea"/>
<rect x="420.99" y="357.82" width="28.02" height="18.84" fill="#bfddf2"/>
<rect x="449.01" y="357.82" width="28.02" height="18.84" fill="#8cc2e4"/>
<rect x="477.03" y="357.82" width="28.02" height="18.84" fill="#d7e8f8"/>
<rect x="505.06" y="357.82" width="28.02" height="18.84" fill="#6bafdc"/>
<rect x="533.08" y="357.82" width="28.02" height="18.84" fill="#fb8d3d"/>
<rect x="561.10" y="357.82" width="28.02" height="18.84" fill="#56a1d2"/>
<rect x="589.13" y="357.82" width="28.02" height="18.84" fill="#81bce2"/>
<rect x="617.15" y="357.82" width="28.02" height="18.84" fill="#8cc2e4"/>
<rect x="645.18" y="357.82" width="28.02" height="18.84" fill="#c3def3"/>
<rect x="84.70" y="376.66" width="28.02" height="18.84" fill="#c7e0f4"/>
<rect x="112.72" y="376.66" width="28.02" height="18.84" fill="#b3d7ee"/>
<rect x="140.75" y="376.66" width="28.02" height="18.84" fill="#77919f"/>
<rect x="168.77" y="376.66" width="28.02" height="18.84" fill="#e7effd"/>
<rect x="196.80" y="376.66" width="28.02" height="18.84" fill="#cbe2f5"/>
<rect x="224.82" y="376.66" width="28.02" height="18.84" fill="#68addc"/>
<rect x="252.84" y="376.66" width="28.02" height="18.84" fill="#84bee2"/>
<rect x="280.87" y="376.66" width="28.02" height="18.84" fill="#86bfe3"/>
<rect x="308.89" y="376.66" width="28.02" height="18.84" fill="#e7effd"/>
<rect x="336.91" y="376.66" width="28.02" height="18.84" fill="#cfe4f6"/>
<rect x="364.94" y="376.66" width="28.02" height="18.84" fill="#afd5ed"/>
<rect x="392.96" y="376.66" width="28.02" height="18.84" fill="#8cc2e4"/>
<rect x="420.99" y="376.66" width="28.02" height="18.84" fill="#afd5ed"/>
<rect x="449.01" y="376.66" width="28.02" height="18.84" fill="#4b98cb"/>
<rect x="477.03" y="376.66" width="28.02" height="18.84" fill="#c3def3"/>
<rect x="505.06" y="376.66" width="28.02" height="18.84" fill="#4b98cb"/>
<rect x="533.08" y="376.66" width="28.02" height="18.84" fill="#ff0000"/>
<rect x="561.10" y="376.66" width="28.02" height="18.84" fill="#4892c2"/>
<rect x="589.13" y="376.66" width="28.02" height="18.84" fill="#5ea6d6"/>
<rect x="617.15" y="376.66" width="28.02" height="18.84" fill="#62a9d8"/>
<rect x="645.18" y="376.66" width="28.02" height="18.84" fill="#a7d1eb"/>
</g>
<g font-size="7.5" fill="#1a1a1a" stroke="#1a1a1a" stroke-width="0.2" text-anchor="middle">
<text x="98.71" y="30.82">0.19</text>
<text x="126.74" y="30.82">0.23</text>
<text x="154.76" y="30.82">4.17</text>
<text x="182.78" y="30.82">0.06</text>
<text x="210.81" y="30.82">0.24</text>
<text x="238.83" y="30.82">0.83</text>
<text x="266.85" y="30.82">0.19</text>
<text x="294.88" y="30.82">0.07</text>
<text x="322.90" y="30.82">0.18</text>
<text x="350.93" y="30.82">0.25</text>
<text x="378.95" y="30.82">0.30</text>
<text x="406.97" y="30.82">0.38</text>
<text x="435.00" y="30.82">0.07</text>
<text x="463.02" y="30.82">0.05</text>
<text x="491.05" y="30.82">0.06</text>
<text x="519.07" y="30.82">0.48</text>
<text x="547.09" y="30.82">0.25</text>
<text x="575.12" y="30.82">0.30</text>
<text x="603.14" y="30.82">0.62</text>
<text x="631.16" y="30.82">0.44</text>
<text x="659.19" y="30.82">0.19</text>
<text x="98.71" y="49.66">0.20</text>
<text x="126.74" y="49.66">0.25</text>
<text x="154.76" y="49.66">3.12</text>
<text x="182.78" y="49.66">0.06</text>
<text x="210.81" y="49.66">0.29</text>
<text x="238.83" y="49.66">0.82</text>
<text x="266.85" y="49.66">0.29</text>
<text x="294.88" y="49.66">0.19</text>
<text x="322.90" y="49.66">0.28</text>
<text x="350.93" y="49.66">0.20</text>
<text x="378.95" y="49.66">0.70</text>
<text x="406.97" y="49.66">0.56</text>
<text x="435.00" y="49.66">0.19</text>
<text x="463.02" y="49.66">0.07</text>
<text x="491.05" y="49.66">0.06</text>
<text x="519.07" y="49.66">0.81</text>
<text x="547.09" y="49.66">0.22</text>
<text x="575.12" y="49.66">0.43</text>
<text x="603.14" y="49.66">0.80</text>
<text x="631.16" y="49.66">0.53</text>
<text x="659.19" y="49.66">0.23</text>
<text x="98.71" y="68.50">0.24</text>
<text x="126.74" y="68.50">0.30</text>
<text x="154.76" y="68.50">2.67</text>
<text x="182.78" y="68.50">0.07</text>
<text x="210.81" y="68.50">0.51</text>
<text x="238.83" y="68.50">1.43</text>
<text x="266.85" y="68.50">0.48</text>
<text x="294.88" y="68.50">0.34</text>
<text x="322.90" y="68.50">0.69</text>
<text x="350.93" y="68.50">0.47</text>
<text x="378.95" y="68.50">0.79</text>
<text x="406.97" y="68.50">0.98</text>
<text x="435.00" y="68.50">0.24</text>
<text x="463.02" y="68.50">2.73</text>
<text x="491.05" y="68.50">0.17</text>
<text x="519.07" y="68.50">2.07</text>
<text x="547.09" y="68.50">0.48</text>
<text x="575.12" y="68.50">0.98</text>
<text x="603.14" y="68.50">1.66</text>
<text x="631.16" y="68.50">0.55</text>
<text x="659.19" y="68.50">0.26</text>
<text x="98.71" y="87.34">0.36</text>
<text x="126.74" y="87.34">0.37</text>
<text x="154.76" y="87.34">3.71</text>
<text x="182.78" y="87.34">0.07</text>
<text x="210.81" y="87.34">0.65</text>
<text x="238.83" y="87.34">2.57</text>
<text x="266.85" y="87.34">0.42</text>
<text x="294.88" y="87.34">0.36</text>
<text x="322.90" y="87.34">0.76</text>
<text x="350.93" y="87.34">0.30</text>
<text x="378.95" y="87.34">0.73</text>
<text x="406.97" y="87.34">1.32</text>
<text x="435.00" y="87.34">0.40</text>
<text x="463.02" y="87.34">0.08</text>
<text x="491.05" y="87.34">0.07</text>
<text x="519.07" y="87.34">2.39</text>
<text x="547.09" y="87.34">1.38</text>
<text x="575.12" y="87.34">1.48</text>
<text x="603.14" y="87.34">2.61</text>
<text x="631.16" y="87.34">0.56</text>
<text x="659.19" y="87.34">0.30</text>
<text x="98.71" y="106.18">0.36</text>
<text x="126.74" y="106.18">0.39</text>
<text x="154.76" y="106.18">6.79</text>
<text x="182.78" y="106.18">0.08</text>
<text x="210.81" y="106.18">0.82</text>
<text x="238.83" y="106.18">3.00</text>
<text x="266.85" y="106.18">0.51</text>
<text x="294.88" y="106.18">0.49</text>
<text x="322.90" y="106.18">1.02</text>
<text x="350.93" y="106.18">0.34</text>
<text x="378.95" y="106.18">0.92</text>
<text x="406.97" y="106.18">1.55</text>
<text x="435.00" y="106.18">0.50</text>
<text x="463.02" y="106.18">2.37</text>
<text x="491.05" y="106.18">0.08</text>
<text x="519.07" y="106.18">2.77</text>
<text x="547.09" y="106.18">1.63</text>
<text x="575.12" y="106.18">2.60</text>
<text x="603.14" y="106.18">3.35</text>
<text x="631.16" y="106.18">0.60</text>
<text x="659.19" y="106.18">0.33</text>
<text x="98.71" y="125.02">0.54</text>
<text x="126.74" y="125.02">0.46</text>
<text x="154.76" y="125.02">5.13</text>
<text x="182.78" y="125.02">0.14</text>
<text x="210.81" y="125.02">0.75</text>
<text x="238.83" y="125.02">3.80</text>
<text x="266.85" y="125.02">0.70</text>
<text x="294.88" y="125.02">0.72</text>
<text x="322.90" y="125.02">1.19</text>
<text x="350.93" y="125.02">0.39</text>
<text x="378.95" y="125.02">1.09</text>
<text x="406.97" y="125.02">1.80</text>
<text x="435.00" y="125.02">0.63</text>
<text x="463.02" y="125.02">0.10</text>
<text x="491.05" y="125.02">0.45</text>
<text x="519.07" y="125.02">5.69</text>
<text x="547.09" y="125.02">2.03</text>
<text x="575.12" y="125.02">3.44</text>
<text x="603.14" y="125.02">4.29</text>
<text x="631.16" y="125.02">0.85</text>
<text x="659.19" y="125.02">0.38</text>
<text x="98.71" y="143.86">0.70</text>
<text x="126.74" y="143.86">0.53</text>
<text x="154.76" y="143.86">10.88</text>
<text x="182.78" y="143.86">0.20</text>
<text x="210.81" y="143.86">1.07</text>
<text x="238.83" y="143.86">5.24</text>
<text x="266.85" y="143.86">1.17</text>
<text x="294.88" y="143.86">1.08</text>
<text x="322.90" y="143.86">1.80</text>
<text x="350.93" y="143.86">0.47</text>
<text x="378.95" y="143.86">1.34</text>
<text x="406.97" y="143.86">2.32</text>
<text x="435.00" y="143.86">1.01</text>
<text x="463.02" y="143.86">5.15</text>
<text x="491.05" y="143.86">0.13</text>
<text x="519.07" y="143.86">5.42</text>
<text x="547.09" y="143.86">3.08</text>
<text x="575.12" y="143.86">3.89</text>
<text x="603.14" y="143.86">5.37</text>
<text x="631.16" y="143.86">1.14</text>
<text x="659.19" y="143.86">1.13</text>
<text x="98.71" y="162.70">1.17</text>
<text x="126.74" y="162.70">0.81</text>
<text x="154.76" y="162.70">12.83</text>
<text x="182.78" y="162.70">0.14</text>
<text x="210.81" y="162.70">1.50</text>
<text x="238.83" y="162.70">5.59</text>
<text x="266.85" y="162.70">1.74</text>
<text x="294.88" y="162.70">1.54</text>
<text x="322.90" y="162.70">2.14</text>
<text x="350.93" y="162.70">0.73</text>
<text x="378.95" y="162.70">1.88</text>
<text x="406.97" y="162.70">3.01</text>
<text x="435.00" y="162.70">1.26</text>
<text x="463.02" y="162.70">3.23</text>
<text x="491.05" y="162.70">0.14</text>
<text x="519.07" y="162.70">6.82</text>
<text x="547.09" y="162.70">4.32</text>
<text x="575.12" y="162.70">5.82</text>
<text x="603.14" y="162.70">6.76</text>
<text x="631.16" y="162.70">1.49</text>
<text x="659.19" y="162.70">0.54</text>
<text x="98.71" y="181.54">1.67</text>
<text x="126.74" y="181.54">1.35</text>
<text x="154.76" y="181.54">16.33</text>
<text x="182.78" y="181.54">0.21</text>
<text x="210.81" y="181.54">2.12</text>
<text x="238.83" y="181.54">8.13</text>
<text x="266.85" y="181.54">3.11</text>
<text x="294.88" y="181.54">1.41</text>
<text x="322.90" y="181.54">2.75</text>
<text x="350.93" y="181.54">1.23</text>
<text x="378.95" y="181.54">2.57</text>
<text x="406.97" y="181.54">4.69</text>
<text x="435.00" y="181.54">2.47</text>
<text x="463.02" y="181.54">8.38</text>
<text x="491.05" y="181.54">0.21</text>
<text x="519.07" y="181.54">8.94</text>
<text x="547.09" y="181.54">6.53</text>
<text x="575.12" y="181.54">7.50</text>
<text x="603.14" y="181.54">9.16</text>
<text x="631.16" y="181.54">2.23</text>
<text x="659.19" y="181.54">0.71</text>
<text x="98.71" y="200.38">0.15</text>
<text x="126.74" y="200.38">0.23</text>
<text x="154.76" y="200.38">3.14</text>
<text x="182.78" y="200.38">0.06</text>
<text x="210.81" y="200.38">0.22</text>
<text x="238.83" y="200.38">0.74</text>
<text x="266.85" y="200.38">0.22</text>
<text x="294.88" y="200.38">0.09</text>
<text x="322.90" y="200.38">0.23</text>
<text x="350.93" y="200.38">0.15</text>
<text x="378.95" y="200.38">0.46</text>
<text x="406.97" y="200.38">0.37</text>
<text x="435.00" y="200.38">0.12</text>
<text x="463.02" y="200.38">0.06</text>
<text x="491.05" y="200.38">0.07</text>
<text x="519.07" y="200.38">0.42</text>
<text x="547.09" y="200.38">0.31</text>
<text x="575.12" y="200.38">0.39</text>
<text x="603.14" y="200.38">0.46</text>
<text x="631.16" y="200.38">0.48</text>
<text x="659.19" y="200.38">0.17</text>
<text x="98.71" y="219.22">2.74</text>
<text x="126.74" y="219.22">1.76</text>
<text x="154.76" y="219.22">28.59</text>
<text x="182.78" y="219.22">0.40</text>
<text x="210.81" y="219.22">3.06</text>
<text x="238.83" y="219.22">12.33</text>
<text x="266.85" y="219.22">5.97</text>
<text x="294.88" y="219.22">1.75</text>
<text x="322.90" y="219.22">3.98</text>
<text x="350.93" y="219.22">1.47</text>
<text x="378.95" y="219.22">3.28</text>
<text x="406.97" y="219.22">7.53</text>
<text x="435.00" y="219.22">3.13</text>
<text x="463.02" y="219.22">7.88</text>
<text x="491.05" y="219.22">2.12</text>
<text x="519.07" y="219.22">13.70</text>
<text x="547.09" y="219.22">15.80</text>
<text x="575.12" y="219.22">10.40</text>
<text x="603.14" y="219.22">13.24</text>
<text x="631.16" y="219.22">3.62</text>
<text x="659.19" y="219.22">0.97</text>
<text x="98.71" y="238.06">4.08</text>
<text x="126.74" y="238.06">2.81</text>
<text x="154.76" y="238.06">39.70</text>
<text x="182.78" y="238.06">0.51</text>
<text x="210.81" y="238.06">4.12</text>
<text x="238.83" y="238.06">18.47</text>
<text x="266.85" y="238.06">8.74</text>
<text x="294.88" y="238.06">2.63</text>
<text x="322.90" y="238.06">4.60</text>
<text x="350.93" y="238.06">1.53</text>
<text x="378.95" y="238.06">4.34</text>
<text x="406.97" y="238.06">11.56</text>
<text x="435.00" y="238.06">4.86</text>
<text x="463.02" y="238.06">12.26</text>
<text x="491.05" y="238.06">2.56</text>
<text x="519.07" y="238.06">20.66</text>
<text x="547.09" y="238.06">23.06</text>
<text x="575.12" y="238.06">14.45</text>
<text x="603.14" y="238.06">18.40</text>
<text x="631.16" y="238.06">5.87</text>
<text x="659.19" y="238.06">1.41</text>
<text x="98.71" y="256.90">5.63</text>
<text x="126.74" y="256.90">3.98</text>
<text x="154.76" y="256.90">58.44</text>
<text x="182.78" y="256.90">1.25</text>
<text x="210.81" y="256.90">6.00</text>
<text x="238.83" y="256.90">24.97</text>
<text x="266.85" y="256.90">9.63</text>
<text x="294.88" y="256.90">3.27</text>
<text x="322.90" y="256.90">5.81</text>
<text x="350.93" y="256.90">1.82</text>
<text x="378.95" y="256.90">6.19</text>
<text x="406.97" y="256.90">17.84</text>
<text x="435.00" y="256.90">7.78</text>
<text x="463.02" y="256.90">9.88</text>
<text x="491.05" y="256.90">2.43</text>
<text x="519.07" y="256.90">33.84</text>
<text x="547.09" y="256.90">42.00</text>
<text x="575.12" y="256.90">22.19</text>
<text x="603.14" y="256.90">28.01</text>
<text x="631.16" y="256.90">9.56</text>
<text x="659.19" y="256.90">2.05</text>
<text x="98.71" y="275.74">10.44</text>
<text x="126.74" y="275.74">7.08</text>
<text x="154.76" y="275.74">84.66</text>
<text x="182.78" y="275.74">1.88</text>
<text x="210.81" y="275.74">9.61</text>
<text x="238.83" y="275.74">38.27</text>
<text x="266.85" y="275.74">17.58</text>
<text x="294.88" y="275.74">6.06</text>
<text x="322.90" y="275.74">8.38</text>
<text x="350.93" y="275.74">3.08</text>
<text x="378.95" y="275.74">8.98</text>
<text x="406.97" y="275.74">28.40</text>
<text x="435.00" y="275.74">14.32</text>
<text x="463.02" y="275.74">26.83</text>
<text x="491.05" y="275.74">11.04</text>
<text x="519.07" y="275.74">55.11</text>
<text x="547.09" y="275.74">72.06</text>
<text x="575.12" y="275.74">41.36</text>
<text x="603.14" y="275.74">40.95</text>
<text x="631.16" y="275.74">16.13</text>
<text x="659.19" y="275.74">6.30</text>
<text x="98.71" y="294.58">17.62</text>
<text x="126.74" y="294.58">11.73</text>
<text x="154.76" y="294.58">125.55</text>
<text x="182.78" y="294.58">2.60</text>
<text x="210.81" y="294.58">14.15</text>
<text x="238.83" y="294.58">62.07</text>
<text x="266.85" y="294.58">29.37</text>
<text x="294.88" y="294.58">12.46</text>
<text x="322.90" y="294.58">10.99</text>
<text x="350.93" y="294.58">4.64</text>
<text x="378.95" y="294.58">14.35</text>
<text x="406.97" y="294.58">45.43</text>
<text x="435.00" y="294.58">22.34</text>
<text x="463.02" y="294.58">67.45</text>
<text x="491.05" y="294.58">15.88</text>
<text x="519.07" y="294.58">95.91</text>
<text x="547.09" y="294.58">134.89</text>
<text x="575.12" y="294.58">116.46</text>
<text x="603.14" y="294.58">66.21</text>
<text x="631.16" y="294.58">28.48</text>
<text x="659.19" y="294.58">20.32</text>
<text x="98.71" y="313.42">25.90</text>
<text x="126.74" y="313.42">21.74</text>
<text x="154.76" y="313.42">214.69</text>
<text x="182.78" y="313.42">4.70</text>
<text x="210.81" y="313.42">23.87</text>
<text x="238.83" y="313.42">112.61</text>
<text x="266.85" y="313.42">51.98</text>
<text x="294.88" y="313.42">23.78</text>
<text x="322.90" y="313.42">15.47</text>
<text x="350.93" y="313.42">6.95</text>
<text x="378.95" y="313.42">28.24</text>
<text x="406.97" y="313.42">76.45</text>
<text x="435.00" y="313.42">35.91</text>
<text x="463.02" y="313.42">131.32</text>
<text x="491.05" y="313.42">17.44</text>
<text x="519.07" y="313.42">157.52</text>
<text x="547.09" y="313.42">268.57</text>
<text x="575.12" y="313.42">162.49</text>
<text x="603.14" y="313.42">118.35</text>
<text x="631.16" y="313.42">55.33</text>
<text x="659.19" y="313.42">35.09</text>
<text x="98.71" y="332.26">40.15</text>
<text x="126.74" y="332.26">37.32</text>
<text x="154.76" y="332.26">297.21</text>
<text x="182.78" y="332.26">8.33</text>
<text x="210.81" y="332.26">39.15</text>
<text x="238.83" y="332.26">167.52</text>
<text x="266.85" y="332.26">100.32</text>
<text x="294.88" y="332.26">50.70</text>
<text x="322.90" y="332.26">18.59</text>
<text x="350.93" y="332.26">19.92</text>
<text x="378.95" y="332.26">47.77</text>
<text x="406.97" y="332.26">112.92</text>
<text x="435.00" y="332.26">52.24</text>
<text x="463.02" y="332.26">130.65</text>
<text x="491.05" y="332.26">34.23</text>
<text x="519.07" y="332.26">240.89</text>
<text x="547.09" y="332.26">433.17</text>
<text x="575.12" y="332.26">301.17</text>
<text x="603.14" y="332.26">189.77</text>
<text x="631.16" y="332.26">102.25</text>
<text x="659.19" y="332.26">57.06</text>
<text x="98.71" y="351.10">65.40</text>
<text x="126.74" y="351.10">63.18</text>
<text x="154.76" y="351.10">419.17</text>
<text x="182.78" y="351.10">12.26</text>
<text x="210.81" y="351.10">59.00</text>
<text x="238.83" y="351.10">249.93</text>
<text x="266.85" y="351.10">80.10</text>
<text x="294.88" y="351.10">101.16</text>
<text x="322.90" y="351.10">20.16</text>
<text x="350.93" y="351.10">10.69</text>
<text x="378.95" y="351.10">71.54</text>
<text x="406.97" y="351.10">157.74</text>
<text x="435.00" y="351.10">83.44</text>
<text x="463.02" y="351.10">253.96</text>
<text x="491.05" y="351.10">46.31</text>
<text x="519.07" y="351.10">302.71</text>
<text x="547.09" y="351.10">651.95</text>
<text x="575.12" y="351.10">442.13</text>
<text x="603.14" y="351.10">276.90</text>
<text x="631.16" y="351.10">178.35</text>
<text x="659.19" y="351.10">94.92</text>
<text x="98.71" y="369.94">97.14</text>
<text x="126.74" y="369.94">104.98</text>
<text x="154.76" y="369.94">550.53</text>
<text x="182.78" y="369.94">20.14</text>
<text x="210.81" y="369.94">80.75</text>
<text x="238.83" y="369.94">343.56</text>
<text x="266.85" y="369.94">114.66</text>
<text x="294.88" y="369.94">190.36</text>
<text x="322.90" y="369.94">26.66</text>
<text x="350.93" y="369.94">13.57</text>
<text x="378.95" y="369.94">112.94</text>
<text x="406.97" y="369.94">219.69</text>
<text x="435.00" y="369.94">143.12</text>
<text x="463.02" y="369.94">312.74</text>
<text x="491.05" y="369.94">72.42</text>
<text x="519.07" y="369.94">459.33</text>
<text x="547.09" y="369.94">909.34</text>
<text x="575.12" y="369.94">570.79</text>
<text x="603.14" y="369.94">364.28</text>
<text x="631.16" y="369.94">310.45</text>
<text x="659.19" y="369.94">137.58</text>
<text x="98.71" y="388.78">126.49</text>
<text x="126.74" y="388.78">173.98</text>
<text x="154.76" y="388.78">754.14</text>
<text x="182.78" y="388.78">25.62</text>
<text x="210.81" y="388.78">106.45</text>
<text x="238.83" y="388.78">464.51</text>
<text x="266.85" y="388.78">353.76</text>
<text x="294.88" y="388.78">335.04</text>
<text x="322.90" y="388.78">33.28</text>
<text x="350.93" y="388.78">94.18</text>
<text x="378.95" y="388.78">191.68</text>
<text x="406.97" y="388.78">321.85</text>
<text x="435.00" y="388.78">188.28</text>
<text x="463.02" y="388.78">641.08</text>
<text x="491.05" y="388.78">131.24</text>
<text x="519.07" y="388.78">634.11</text>
<text x="547.09" y="388.78">1149.63</text>
<text x="575.12" y="388.78">691.15</text>
<text x="603.14" y="388.78">520.13</text>
<text x="631.16" y="388.78">505.34</text>
<text x="659.19" y="388.78">217.12</text>
</g>
<g font-size="9.2" fill="#111" stroke="#111" stroke-width="0.2">
<text x="675.8" y="31.37">1<tspan dy="0.8">−</tspan><tspan dy="-0.8">4</tspan></text>
<text x="675.8" y="50.21">5<tspan dy="0.8">−</tspan><tspan dy="-0.8">9</tspan></text>
<text x="675.8" y="69.05">10<tspan dy="0.8">−</tspan><tspan dy="-0.8">14</tspan></text>
<text x="675.8" y="87.89">15<tspan dy="0.8">−</tspan><tspan dy="-0.8">19</tspan></text>
<text x="675.8" y="106.73">20<tspan dy="0.8">−</tspan><tspan dy="-0.8">24</tspan></text>
<text x="675.8" y="125.57">25<tspan dy="0.8">−</tspan><tspan dy="-0.8">29</tspan></text>
<text x="675.8" y="144.41">30<tspan dy="0.8">−</tspan><tspan dy="-0.8">34</tspan></text>
<text x="675.8" y="163.25">35<tspan dy="0.8">−</tspan><tspan dy="-0.8">39</tspan></text>
<text x="675.8" y="182.09">40<tspan dy="0.8">−</tspan><tspan dy="-0.8">44</tspan></text>
<text x="675.8" y="200.93">45<tspan dy="0.8">−</tspan><tspan dy="-0.8">49</tspan></text>
<text x="675.8" y="219.77">50<tspan dy="0.8">−</tspan><tspan dy="-0.8">54</tspan></text>
<text x="675.8" y="238.61">55<tspan dy="0.8">−</tspan><tspan dy="-0.8">59</tspan></text>
<text x="675.8" y="257.45">60<tspan dy="0.8">−</tspan><tspan dy="-0.8">64</tspan></text>
<text x="675.8" y="276.29">65<tspan dy="0.8">−</tspan><tspan dy="-0.8">69</tspan></text>
<text x="675.8" y="295.13">70<tspan dy="0.8">−</tspan><tspan dy="-0.8">74</tspan></text>
<text x="675.8" y="313.97">75<tspan dy="0.8">−</tspan><tspan dy="-0.8">79</tspan></text>
<text x="675.8" y="332.81">80<tspan dy="0.8">−</tspan><tspan dy="-0.8">84</tspan></text>
<text x="675.8" y="351.65">85<tspan dy="0.8">−</tspan><tspan dy="-0.8">89</tspan></text>
<text x="675.8" y="370.49">90<tspan dy="0.8">−</tspan><tspan dy="-0.8">94</tspan></text>
<text x="675.8" y="389.33">95+</text>
</g>
<g font-size="9.5" fill="#111" stroke="#111" stroke-width="0.2">
<text transform="translate(95.11,398.20) rotate(90)">East Asia</text>
<text transform="translate(123.14,398.20) rotate(90)">Southeast Asia</text>
<text transform="translate(151.16,398.20) rotate(90)">Central Asia</text>
<text transform="translate(179.18,398.20) rotate(90)">South Asia</text>
<text transform="translate(207.21,398.20) rotate(90)">High<tspan dy="0.6">−</tspan><tspan dy="-0.6">income Asia Pacific</tspan></text>
<text transform="translate(235.23,398.20) rotate(90)">Australasia</text>
<text transform="translate(263.25,398.20) rotate(90)">Central Europe</text>
<text transform="translate(291.28,398.20) rotate(90)">Eastern Europe</text>
<text transform="translate(319.30,398.20) rotate(90)">Western Europe</text>
<text transform="translate(347.33,398.20) rotate(90)">Southern Latin America</text>
<text transform="translate(375.35,398.20) rotate(90)">Andean Latin America</text>
<text transform="translate(403.37,398.20) rotate(90)">Central Latin America</text>
<text transform="translate(431.40,398.20) rotate(90)">Tropical Latin America</text>
<text transform="translate(459.42,398.20) rotate(90)">High<tspan dy="0.6">−</tspan><tspan dy="-0.6">income North America</tspan></text>
<text transform="translate(487.45,398.20) rotate(90)">North Africa and Middle East</text>
<text transform="translate(515.47,398.20) rotate(90)">Central Sub<tspan dy="0.6">−</tspan><tspan dy="-0.6">Saharan Africa</tspan></text>
<text transform="translate(543.49,398.20) rotate(90)">Eastern Sub<tspan dy="0.6">−</tspan><tspan dy="-0.6">Saharan Africa</tspan></text>
<text transform="translate(571.52,398.20) rotate(90)">Southern Sub<tspan dy="0.6">−</tspan><tspan dy="-0.6">Saharan Africa</tspan></text>
<text transform="translate(599.54,398.20) rotate(90)">Western Sub<tspan dy="0.6">−</tspan><tspan dy="-0.6">Saharan Africa</tspan></text>
<text transform="translate(627.56,398.20) rotate(90)">Caribbean</text>
<text transform="translate(655.59,398.20) rotate(90)">Oceania</text>
</g>
<text x="0.6" y="571.8" font-size="12.5" font-weight="bold" fill="#111" stroke="#111" stroke-width="0.35">(B)</text>
<rect x="24.2" y="590.9" width="9.50" height="140.90" fill="url(#lg)"/>
<g font-size="9" fill="#111" stroke="#111" stroke-width="0.2">
<text x="38.8" y="614.80">150</text>
<text x="38.8" y="653.90">100</text>
<text x="38.8" y="693.20">50</text>
<text x="38.8" y="724.00">10</text>
</g>
<g stroke="#1c1c1c" stroke-width="0.85">
<rect x="85.00" y="591.80" width="28.32" height="18.82" fill="#eff3ff"/>
<rect x="113.32" y="591.80" width="28.32" height="18.82" fill="#eff3ff"/>
<rect x="141.65" y="591.80" width="28.32" height="18.82" fill="#eff3ff"/>
<rect x="169.97" y="591.80" width="28.32" height="18.82" fill="#eff3ff"/>
<rect x="198.30" y="591.80" width="28.32" height="18.82" fill="#eff3ff"/>
<rect x="226.62" y="591.80" width="28.32" height="18.82" fill="#eff3ff"/>
<rect x="254.94" y="591.80" width="28.32" height="18.82" fill="#eff3ff"/>
<rect x="283.27" y="591.80" width="28.32" height="18.82" fill="#eff3ff"/>
<rect x="311.59" y="591.80" width="28.32" height="18.82" fill="#eff3ff"/>
<rect x="339.91" y="591.80" width="28.32" height="18.82" fill="#eff3ff"/>
<rect x="368.24" y="591.80" width="28.32" height="18.82" fill="#eff3ff"/>
<rect x="396.56" y="591.80" width="28.32" height="18.82" fill="#eff3ff"/>
<rect x="424.89" y="591.80" width="28.32" height="18.82" fill="#eff3ff"/>
<rect x="453.21" y="591.80" width="28.32" height="18.82" fill="#eff3ff"/>
<rect x="481.53" y="591.80" width="28.32" height="18.82" fill="#eff3ff"/>
<rect x="509.86" y="591.80" width="28.32" height="18.82" fill="#eff3ff"/>
<rect x="538.18" y="591.80" width="28.32" height="18.82" fill="#eff3ff"/>
<rect x="566.50" y="591.80" width="28.32" height="18.82" fill="#eff3ff"/>
<rect x="594.83" y="591.80" width="28.32" height="18.82" fill="#eff3ff"/>
<rect x="623.15" y="591.80" width="28.32" height="18.82" fill="#eff3ff"/>
<rect x="651.48" y="591.80" width="28.32" height="18.82" fill="#eff3ff"/>
<rect x="85.00" y="610.62" width="28.32" height="18.82" fill="#eff3ff"/>
<rect x="113.32" y="610.62" width="28.32" height="18.82" fill="#eff3ff"/>
<rect x="141.65" y="610.62" width="28.32" height="18.82" fill="#eff3ff"/>
<rect x="169.97" y="610.62" width="28.32" height="18.82" fill="#eff3ff"/>
<rect x="198.30" y="610.62" width="28.32" height="18.82" fill="#eff3ff"/>
<rect x="226.62" y="610.62" width="28.32" height="18.82" fill="#eff3ff"/>
<rect x="254.94" y="610.62" width="28.32" height="18.82" fill="#eff3ff"/>
<rect x="283.27" y="610.62" width="28.32" height="18.82" fill="#eff3ff"/>
<rect x="311.59" y="610.62" width="28.32" height="18.82" fill="#eff3ff"/>
<rect x="339.91" y="610.62" width="28.32" height="18.82" fill="#eff3ff"/>
<rect x="368.24" y="610.62" width="28.32" height="18.82" fill="#eff3ff"/>
<rect x="396.56" y="610.62" width="28.32" height="18.82" fill="#eff3ff"/>
<rect x="424.89" y="610.62" width="28.32" height="18.82" fill="#eff3ff"/>
<rect x="453.21" y="610.62" width="28.32" height="18.82" fill="#eff3ff"/>
<rect x="481.53" y="610.62" width="28.32" height="18.82" fill="#eff3ff"/>
<rect x="509.86" y="610.62" width="28.32" height="18.82" fill="#eff3ff"/>
<rect x="538.18" y="610.62" width="28.32" height="18.82" fill="#eff3ff"/>
<rect x="566.50" y="610.62" width="28.32" height="18.82" fill="#eff3ff"/>
<rect x="594.83" y="610.62" width="28.32" height="18.82" fill="#eff3ff"/>
<rect x="623.15" y="610.62" width="28.32" height="18.82" fill="#eff3ff"/>
<rect x="651.48" y="610.62" width="28.32" height="18.82" fill="#eff3ff"/>
<rect x="85.00" y="629.45" width="28.32" height="18.82" fill="#eff3ff"/>
<rect x="113.32" y="629.45" width="28.32" height="18.82" fill="#eff3ff"/>
<rect x="141.65" y="629.45" width="28.32" height="18.82" fill="#eff3ff"/>
<rect x="169.97" y="629.45" width="28.32" height="18.82" fill="#eff3ff"/>
<rect x="198.30" y="629.45" width="28.32" height="18.82" fill="#eff3ff"/>
<rect x="226.62" y="629.45" width="28.32" height="18.82" fill="#eff3ff"/>
<rect x="254.94" y="629.45" width="28.32" height="18.82" fill="#eff3ff"/>
<rect x="283.27" y="629.45" width="28.32" height="18.82" fill="#eff3ff"/>
<rect x="311.59" y="629.45" width="28.32" height="18.82" fill="#eff3ff"/>
<rect x="339.91" y="629.45" width="28.32" height="18.82" fill="#eff3ff"/>
<rect x="368.24" y="629.45" width="28.32" height="18.82" fill="#eff3ff"/>
<rect x="396.56" y="629.45" width="28.32" height="18.82" fill="#eff3ff"/>
<rect x="424.89" y="629.45" width="28.32" height="18.82" fill="#eff3ff"/>
<rect x="453.21" y="629.45" width="28.32" height="18.82" fill="#eff3ff"/>
<rect x="481.53" y="629.45" width="28.32" height="18.82" fill="#eff3ff"/>
<rect x="509.86" y="629.45" width="28.32" height="18.82" fill="#eff3ff"/>
<rect x="538.18" y="629.45" width="28.32" height="18.82" fill="#eff3ff"/>
<rect x="566.50" y="629.45" width="28.32" height="18.82" fill="#eff3ff"/>
<rect x="594.83" y="629.45" width="28.32" height="18.82" fill="#eff3ff"/>
<rect x="623.15" y="629.45" width="28.32" height="18.82" fill="#eff3ff"/>
<rect x="651.48" y="629.45" width="28.32" height="18.82" fill="#eff3ff"/>
<rect x="85.00" y="648.27" width="28.32" height="18.82" fill="#eff3ff"/>
<rect x="113.32" y="648.27" width="28.32" height="18.82" fill="#eff3ff"/>
<rect x="141.65" y="648.27" width="28.32" height="18.82" fill="#eff3ff"/>
<rect x="169.97" y="648.27" width="28.32" height="18.82" fill="#eff3ff"/>
<rect x="198.30" y="648.27" width="28.32" height="18.82" fill="#eff3ff"/>
<rect x="226.62" y="648.27" width="28.32" height="18.82" fill="#eff3ff"/>
<rect x="254.94" y="648.27" width="28.32" height="18.82" fill="#eff3ff"/>
<rect x="283.27" y="648.27" width="28.32" height="18.82" fill="#eff3ff"/>
<rect x="311.59" y="648.27" width="28.32" height="18.82" fill="#eff3ff"/>
<rect x="339.91" y="648.27" width="28.32" height="18.82" fill="#eff3ff"/>
<rect x="368.24" y="648.27" width="28.32" height="18.82" fill="#eff3ff"/>
<rect x="396.56" y="648.27" width="28.32" height="18.82" fill="#eff3ff"/>
<rect x="424.89" y="648.27" width="28.32" height="18.82" fill="#eff3ff"/>
<rect x="453.21" y="648.27" width="28.32" height="18.82" fill="#eff3ff"/>
<rect x="481.53" y="648.27" width="28.32" height="18.82" fill="#eff3ff"/>
<rect x="509.86" y="648.27" width="28.32" height="18.82" fill="#eff3ff"/>
<rect x="538.18" y="648.27" width="28.32" height="18.82" fill="#eff3ff"/>
<rect x="566.50" y="648.27" width="28.32" height="18.82" fill="#eff3ff"/>
<rect x="594.83" y="648.27" width="28.32" height="18.82" fill="#eff3ff"/>
<rect x="623.15" y="648.27" width="28.32" height="18.82" fill="#eff3ff"/>
<rect x="651.48" y="648.27" width="28.32" height="18.82" fill="#eff3ff"/>
<rect x="85.00" y="667.10" width="28.32" height="18.82" fill="#eff3ff"/>
<rect x="113.32" y="667.10" width="28.32" height="18.82" fill="#eff3ff"/>
<rect x="141.65" y="667.10" width="28.32" height="18.82" fill="#eff3ff"/>
<rect x="169.97" y="667.10" width="28.32" height="18.82" fill="#eff3ff"/>
<rect x="198.30" y="667.10" width="28.32" height="18.82" fill="#eff3ff"/>
<rect x="226.62" y="667.10" width="28.32" height="18.82" fill="#eff3ff"/>
<rect x="254.94" y="667.10" width="28.32" height="18.82" fill="#eff3ff"/>
<rect x="283.27" y="667.10" width="28.32" height="18.82" fill="#eff3ff"/>
<rect x="311.59" y="667.10" width="28.32" height="18.82" fill="#eff3ff"/>
<rect x="339.91" y="667.10" width="28.32" height="18.82" fill="#eff3ff"/>
<rect x="368.24" y="667.10" width="28.32" height="18.82" fill="#eff3ff"/>
<rect x="396.56" y="667.10" width="28.32" height="18.82" fill="#eff3ff"/>
<rect x="424.89" y="667.10" width="28.32" height="18.82" fill="#eff3ff"/>
<rect x="453.21" y="667.10" width="28.32" height="18.82" fill="#eff3ff"/>
<rect x="481.53" y="667.10" width="28.32" height="18.82" fill="#eff3ff"/>
<rect x="509.86" y="667.10" width="28.32" height="18.82" fill="#eff3ff"/>
<rect x="538.18" y="667.10" width="28.32" height="18.82" fill="#eff3ff"/>
<rect x="566.50" y="667.10" width="28.32" height="18.82" fill="#eff3ff"/>
<rect x="594.83" y="667.10" width="28.32" height="18.82" fill="#eff3ff"/>
<rect x="623.15" y="667.10" width="28.32" height="18.82" fill="#eff3ff"/>
<rect x="651.48" y="667.10" width="28.32" height="18.82" fill="#eff3ff"/>
<rect x="85.00" y="685.92" width="28.32" height="18.82" fill="#eff3ff"/>
<rect x="113.32" y="685.92" width="28.32" height="18.82" fill="#eff3ff"/>
<rect x="141.65" y="685.92" width="28.32" height="18.82" fill="#eff3ff"/>
<rect x="169.97" y="685.92" width="28.32" height="18.82" fill="#eff3ff"/>
<rect x="198.30" y="685.92" width="28.32" height="18.82" fill="#eff3ff"/>
<rect x="226.62" y="685.92" width="28.32" height="18.82" fill="#eff3ff"/>
<rect x="254.94" y="685.92" width="28.32" height="18.82" fill="#eff3ff"/>
<rect x="283.27" y="685.92" width="28.32" height="18.82" fill="#eff3ff"/>
<rect x="311.59" y="685.92" width="28.32" height="18.82" fill="#eff3ff"/>
<rect x="339.91" y="685.92" width="28.32" height="18.82" fill="#eff3ff"/>
<rect x="368.24" y="685.92" width="28.32" height="18.82" fill="#eff3ff"/>
<rect x="396.56" y="685.92" width="28.32" height="18.82" fill="#eff3ff"/>
<rect x="424.89" y="685.92" width="28.32" height="18.82" fill="#eff3ff"/>
<rect x="453.21" y="685.92" width="28.32" height="18.82" fill="#eff3ff"/>
<rect x="481.53" y="685.92" width="28.32" height="18.82" fill="#eff3ff"/>
<rect x="509.86" y="685.92" width="28.32" height="18.82" fill="#eff3ff"/>
<rect x="538.18" y="685.92" width="28.32" height="18.82" fill="#eff3ff"/>
<rect x="566.50" y="685.92" width="28.32" height="18.82" fill="#eff3ff"/>
<rect x="594.83" y="685.92" width="28.32" height="18.82" fill="#eff3ff"/>
<rect x="623.15" y="685.92" width="28.32" height="18.82" fill="#eff3ff"/>
<rect x="651.48" y="685.92" width="28.32" height="18.82" fill="#eff3ff"/>
<rect x="85.00" y="704.75" width="28.32" height="18.82" fill="#eff3ff"/>
<rect x="113.32" y="704.75" width="28.32" height="18.82" fill="#eff3ff"/>
<rect x="141.65" y="704.75" width="28.32" height="18.82" fill="#eff3ff"/>
<rect x="169.97" y="704.75" width="28.32" height="18.82" fill="#eff3ff"/>
<rect x="198.30" y="704.75" width="28.32" height="18.82" fill="#eff3ff"/>
<rect x="226.62" y="704.75" width="28.32" height="18.82" fill="#eff3ff"/>
<rect x="254.94" y="704.75" width="28.32" height="18.82" fill="#eff3ff"/>
<rect x="283.27" y="704.75" width="28.32" height="18.82" fill="#eff3ff"/>
<rect x="311.59" y="704.75" width="28.32" height="18.82" fill="#eff3ff"/>
<rect x="339.91" y="704.75" width="28.32" height="18.82" fill="#eff3ff"/>
<rect x="368.24" y="704.75" width="28.32" height="18.82" fill="#eff3ff"/>
<rect x="396.56" y="704.75" width="28.32" height="18.82" fill="#eff3ff"/>
<rect x="424.89" y="704.75" width="28.32" height="18.82" fill="#eff3ff"/>
<rect x="453.21" y="704.75" width="28.32" height="18.82" fill="#eff3ff"/>
<rect x="481.53" y="704.75" width="28.32" height="18.82" fill="#eff3ff"/>
<rect x="509.86" y="704.75" width="28.32" height="18.82" fill="#eff3ff"/>
<rect x="538.18" y="704.75" width="28.32" height="18.82" fill="#eff3ff"/>
<rect x="566.50" y="704.75" width="28.32" height="18.82" fill="#eff3ff"/>
<rect x="594.83" y="704.75" width="28.32" height="18.82" fill="#eff3ff"/>
<rect x="623.15" y="704.75" width="28.32" height="18.82" fill="#eff3ff"/>
<rect x="651.48" y="704.75" width="28.32" height="18.82" fill="#eff3ff"/>
<rect x="85.00" y="723.57" width="28.32" height="18.82" fill="#eff3ff"/>
<rect x="113.32" y="723.57" width="28.32" height="18.82" fill="#eff3ff"/>
<rect x="141.65" y="723.57" width="28.32" height="18.82" fill="#eff3ff"/>
<rect x="169.97" y="723.57" width="28.32" height="18.82" fill="#eff3ff"/>
<rect x="198.30" y="723.57" width="28.32" height="18.82" fill="#eff3ff"/>
<rect x="226.62" y="723.57" width="28.32" height="18.82" fill="#eff3ff"/>
<rect x="254.94" y="723.57" width="28.32" height="18.82" fill="#eff3ff"/>
<rect x="283.27" y="723.57" width="28.32" height="18.82" fill="#eff3ff"/>
<rect x="311.59" y="723.57" width="28.32" height="18.82" fill="#eff3ff"/>
<rect x="339.91" y="723.57" width="28.32" height="18.82" fill="#eff3ff"/>
<rect x="368.24" y="723.57" width="28.32" height="18.82" fill="#eff3ff"/>
<rect x="396.56" y="723.57" width="28.32" height="18.82" fill="#eff3ff"/>
<rect x="424.89" y="723.57" width="28.32" height="18.82" fill="#eff3ff"/>
<rect x="453.21" y="723.57" width="28.32" height="18.82" fill="#eff3ff"/>
<rect x="481.53" y="723.57" width="28.32" height="18.82" fill="#eff3ff"/>
<rect x="509.86" y="723.57" width="28.32" height="18.82" fill="#eff3ff"/>
<rect x="538.18" y="723.57" width="28.32" height="18.82" fill="#eff3ff"/>
<rect x="566.50" y="723.57" width="28.32" height="18.82" fill="#eff3ff"/>
<rect x="594.83" y="723.57" width="28.32" height="18.82" fill="#eff3ff"/>
<rect x="623.15" y="723.57" width="28.32" height="18.82" fill="#eff3ff"/>
<rect x="651.48" y="723.57" width="28.32" height="18.82" fill="#eff3ff"/>
<rect x="85.00" y="742.40" width="28.32" height="18.82" fill="#eff3ff"/>
<rect x="113.32" y="742.40" width="28.32" height="18.82" fill="#eff3ff"/>
<rect x="141.65" y="742.40" width="28.32" height="18.82" fill="#eff3ff"/>
<rect x="169.97" y="742.40" width="28.32" height="18.82" fill="#eff3ff"/>
<rect x="198.30" y="742.40" width="28.32" height="18.82" fill="#eff3ff"/>
<rect x="226.62" y="742.40" width="28.32" height="18.82" fill="#eff3ff"/>
<rect x="254.94" y="742.40" width="28.32" height="18.82" fill="#eff3ff"/>
<rect x="283.27" y="742.40" width="28.32" height="18.82" fill="#eff3ff"/>
<rect x="311.59" y="742.40" width="28.32" height="18.82" fill="#eff3ff"/>
<rect x="339.91" y="742.40" width="28.32" height="18.82" fill="#eff3ff"/>
<rect x="368.24" y="742.40" width="28.32" height="18.82" fill="#eff3ff"/>
<rect x="396.56" y="742.40" width="28.32" height="18.82" fill="#eff3ff"/>
<rect x="424.89" y="742.40" width="28.32" height="18.82" fill="#eff3ff"/>
<rect x="453.21" y="742.40" width="28.32" height="18.82" fill="#eff3ff"/>
<rect x="481.53" y="742.40" width="28.32" height="18.82" fill="#eff3ff"/>
<rect x="509.86" y="742.40" width="28.32" height="18.82" fill="#eff3ff"/>
<rect x="538.18" y="742.40" width="28.32" height="18.82" fill="#eff3ff"/>
<rect x="566.50" y="742.40" width="28.32" height="18.82" fill="#eff3ff"/>
<rect x="594.83" y="742.40" width="28.32" height="18.82" fill="#eff3ff"/>
<rect x="623.15" y="742.40" width="28.32" height="18.82" fill="#eff3ff"/>
<rect x="651.48" y="742.40" width="28.32" height="18.82" fill="#eff3ff"/>
<rect x="85.00" y="761.22" width="28.32" height="18.82" fill="#eff3ff"/>
<rect x="113.32" y="761.22" width="28.32" height="18.82" fill="#eff3ff"/>
<rect x="141.65" y="761.22" width="28.32" height="18.82" fill="#eff3ff"/>
<rect x="169.97" y="761.22" width="28.32" height="18.82" fill="#eff3ff"/>
<rect x="198.30" y="761.22" width="28.32" height="18.82" fill="#eff3ff"/>
<rect x="226.62" y="761.22" width="28.32" height="18.82" fill="#eff3ff"/>
<rect x="254.94" y="761.22" width="28.32" height="18.82" fill="#eff3ff"/>
<rect x="283.27" y="761.22" width="28.32" height="18.82" fill="#eff3ff"/>
<rect x="311.59" y="761.22" width="28.32" height="18.82" fill="#eff3ff"/>
<rect x="339.91" y="761.22" width="28.32" height="18.82" fill="#eff3ff"/>
<rect x="368.24" y="761.22" width="28.32" height="18.82" fill="#eff3ff"/>
<rect x="396.56" y="761.22" width="28.32" height="18.82" fill="#eff3ff"/>
<rect x="424.89" y="761.22" width="28.32" height="18.82" fill="#eff3ff"/>
<rect x="453.21" y="761.22" width="28.32" height="18.82" fill="#eff3ff"/>
<rect x="481.53" y="761.22" width="28.32" height="18.82" fill="#eff3ff"/>
<rect x="509.86" y="761.22" width="28.32" height="18.82" fill="#eff3ff"/>
<rect x="538.18" y="761.22" width="28.32" height="18.82" fill="#eff3ff"/>
<rect x="566.50" y="761.22" width="28.32" height="18.82" fill="#eff3ff"/>
<rect x="594.83" y="761.22" width="28.32" height="18.82" fill="#eff3ff"/>
<rect x="623.15" y="761.22" width="28.32" height="18.82" fill="#eff3ff"/>
<rect x="651.48" y="761.22" width="28.32" height="18.82" fill="#eff3ff"/>
<rect x="85.00" y="780.05" width="28.32" height="18.82" fill="#eff3ff"/>
<rect x="113.32" y="780.05" width="28.32" height="18.82" fill="#eff3ff"/>
<rect x="141.65" y="780.05" width="28.32" height="18.82" fill="#eff3ff"/>
<rect x="169.97" y="780.05" width="28.32" height="18.82" fill="#eff3ff"/>
<rect x="198.30" y="780.05" width="28.32" height="18.82" fill="#eff3ff"/>
<rect x="226.62" y="780.05" width="28.32" height="18.82" fill="#eff3ff"/>
<rect x="254.94" y="780.05" width="28.32" height="18.82" fill="#eff3ff"/>
<rect x="283.27" y="780.05" width="28.32" height="18.82" fill="#eff3ff"/>
<rect x="311.59" y="780.05" width="28.32" height="18.82" fill="#eff3ff"/>
<rect x="339.91" y="780.05" width="28.32" height="18.82" fill="#eff3ff"/>
<rect x="368.24" y="780.05" width="28.32" height="18.82" fill="#eff3ff"/>
<rect x="396.56" y="780.05" width="28.32" height="18.82" fill="#eff3ff"/>
<rect x="424.89" y="780.05" width="28.32" height="18.82" fill="#eff3ff"/>
<rect x="453.21" y="780.05" width="28.32" height="18.82" fill="#eff3ff"/>
<rect x="481.53" y="780.05" width="28.32" height="18.82" fill="#eff3ff"/>
<rect x="509.86" y="780.05" width="28.32" height="18.82" fill="#eff3ff"/>
<rect x="538.18" y="780.05" width="28.32" height="18.82" fill="#eff3ff"/>
<rect x="566.50" y="780.05" width="28.32" height="18.82" fill="#eff3ff"/>
<rect x="594.83" y="780.05" width="28.32" height="18.82" fill="#eff3ff"/>
<rect x="623.15" y="780.05" width="28.32" height="18.82" fill="#eff3ff"/>
<rect x="651.48" y="780.05" width="28.32" height="18.82" fill="#eff3ff"/>
<rect x="85.00" y="798.88" width="28.32" height="18.82" fill="#eff3ff"/>
<rect x="113.32" y="798.88" width="28.32" height="18.82" fill="#eff3ff"/>
<rect x="141.65" y="798.88" width="28.32" height="18.82" fill="#eff3ff"/>
<rect x="169.97" y="798.88" width="28.32" height="18.82" fill="#eff3ff"/>
<rect x="198.30" y="798.88" width="28.32" height="18.82" fill="#eff3ff"/>
<rect x="226.62" y="798.88" width="28.32" height="18.82" fill="#eff3ff"/>
<rect x="254.94" y="798.88" width="28.32" height="18.82" fill="#eff3ff"/>
<rect x="283.27" y="798.88" width="28.32" height="18.82" fill="#eff3ff"/>
<rect x="311.59" y="798.88" width="28.32" height="18.82" fill="#eff3ff"/>
<rect x="339.91" y="798.88" width="28.32" height="18.82" fill="#eff3ff"/>
<rect x="368.24" y="798.88" width="28.32" height="18.82" fill="#eff3ff"/>
<rect x="396.56" y="798.88" width="28.32" height="18.82" fill="#eff3ff"/>
<rect x="424.89" y="798.88" width="28.32" height="18.82" fill="#eff3ff"/>
<rect x="453.21" y="798.88" width="28.32" height="18.82" fill="#eff3ff"/>
<rect x="481.53" y="798.88" width="28.32" height="18.82" fill="#eff3ff"/>
<rect x="509.86" y="798.88" width="28.32" height="18.82" fill="#eff3ff"/>
<rect x="538.18" y="798.88" width="28.32" height="18.82" fill="#eff3ff"/>
<rect x="566.50" y="798.88" width="28.32" height="18.82" fill="#eff3ff"/>
<rect x="594.83" y="798.88" width="28.32" height="18.82" fill="#eff3ff"/>
<rect x="623.15" y="798.88" width="28.32" height="18.82" fill="#eff3ff"/>
<rect x="651.48" y="798.88" width="28.32" height="18.82" fill="#eff3ff"/>
<rect x="85.00" y="817.70" width="28.32" height="18.82" fill="#eff3ff"/>
<rect x="113.32" y="817.70" width="28.32" height="18.82" fill="#eff3ff"/>
<rect x="141.65" y="817.70" width="28.32" height="18.82" fill="#ebf1fe"/>
<rect x="169.97" y="817.70" width="28.32" height="18.82" fill="#eff3ff"/>
<rect x="198.30" y="817.70" width="28.32" height="18.82" fill="#eff3ff"/>
<rect x="226.62" y="817.70" width="28.32" height="18.82" fill="#eff3ff"/>
<rect x="254.94" y="817.70" width="28.32" height="18.82" fill="#eff3ff"/>
<rect x="283.27" y="817.70" width="28.32" height="18.82" fill="#eff3ff"/>
<rect x="311.59" y="817.70" width="28.32" height="18.82" fill="#eff3ff"/>
<rect x="339.91" y="817.70" width="28.32" height="18.82" fill="#eff3ff"/>
<rect x="368.24" y="817.70" width="28.32" height="18.82" fill="#eff3ff"/>
<rect x="396.56" y="817.70" width="28.32" height="18.82" fill="#eff3ff"/>
<rect x="424.89" y="817.70" width="28.32" height="18.82" fill="#eff3ff"/>
<rect x="453.21" y="817.70" width="28.32" height="18.82" fill="#eff3ff"/>
<rect x="481.53" y="817.70" width="28.32" height="18.82" fill="#eff3ff"/>
<rect x="509.86" y="817.70" width="28.32" height="18.82" fill="#eff3ff"/>
<rect x="538.18" y="817.70" width="28.32" height="18.82" fill="#eff3ff"/>
<rect x="566.50" y="817.70" width="28.32" height="18.82" fill="#eff3ff"/>
<rect x="594.83" y="817.70" width="28.32" height="18.82" fill="#eff3ff"/>
<rect x="623.15" y="817.70" width="28.32" height="18.82" fill="#eff3ff"/>
<rect x="651.48" y="817.70" width="28.32" height="18.82" fill="#eff3ff"/>
<rect x="85.00" y="836.52" width="28.32" height="18.82" fill="#eff3ff"/>
<rect x="113.32" y="836.52" width="28.32" height="18.82" fill="#eff3ff"/>
<rect x="141.65" y="836.52" width="28.32" height="18.82" fill="#ebf1fe"/>
<rect x="169.97" y="836.52" width="28.32" height="18.82" fill="#eff3ff"/>
<rect x="198.30" y="836.52" width="28.32" height="18.82" fill="#eff3ff"/>
<rect x="226.62" y="836.52" width="28.32" height="18.82" fill="#eff3ff"/>
<rect x="254.94" y="836.52" width="28.32" height="18.82" fill="#eff3ff"/>
<rect x="283.27" y="836.52" width="28.32" height="18.82" fill="#eff3ff"/>
<rect x="311.59" y="836.52" width="28.32" height="18.82" fill="#eff3ff"/>
<rect x="339.91" y="836.52" width="28.32" height="18.82" fill="#eff3ff"/>
<rect x="368.24" y="836.52" width="28.32" height="18.82" fill="#eff3ff"/>
<rect x="396.56" y="836.52" width="28.32" height="18.82" fill="#eff3ff"/>
<rect x="424.89" y="836.52" width="28.32" height="18.82" fill="#eff3ff"/>
<rect x="453.21" y="836.52" width="28.32" height="18.82" fill="#eff3ff"/>
<rect x="481.53" y="836.52" width="28.32" height="18.82" fill="#eff3ff"/>
<rect x="509.86" y="836.52" width="28.32" height="18.82" fill="#ebf1fe"/>
<rect x="538.18" y="836.52" width="28.32" height="18.82" fill="#ebf1fe"/>
<rect x="566.50" y="836.52" width="28.32" height="18.82" fill="#eff3ff"/>
<rect x="594.83" y="836.52" width="28.32" height="18.82" fill="#eff3ff"/>
<rect x="623.15" y="836.52" width="28.32" height="18.82" fill="#eff3ff"/>
<rect x="651.48" y="836.52" width="28.32" height="18.82" fill="#eff3ff"/>
<rect x="85.00" y="855.35" width="28.32" height="18.82" fill="#eff3ff"/>
<rect x="113.32" y="855.35" width="28.32" height="18.82" fill="#eff3ff"/>
<rect x="141.65" y="855.35" width="28.32" height="18.82" fill="#e3edfc"/>
<rect x="169.97" y="855.35" width="28.32" height="18.82" fill="#eff3ff"/>
<rect x="198.30" y="855.35" width="28.32" height="18.82" fill="#eff3ff"/>
<rect x="226.62" y="855.35" width="28.32" height="18.82" fill="#ebf1fe"/>
<rect x="254.94" y="855.35" width="28.32" height="18.82" fill="#eff3ff"/>
<rect x="283.27" y="855.35" width="28.32" height="18.82" fill="#eff3ff"/>
<rect x="311.59" y="855.35" width="28.32" height="18.82" fill="#eff3ff"/>
<rect x="339.91" y="855.35" width="28.32" height="18.82" fill="#eff3ff"/>
<rect x="368.24" y="855.35" width="28.32" height="18.82" fill="#eff3ff"/>
<rect x="396.56" y="855.35" width="28.32" height="18.82" fill="#eff3ff"/>
<rect x="424.89" y="855.35" width="28.32" height="18.82" fill="#eff3ff"/>
<rect x="453.21" y="855.35" width="28.32" height="18.82" fill="#ebf1fe"/>
<rect x="481.53" y="855.35" width="28.32" height="18.82" fill="#eff3ff"/>
<rect x="509.86" y="855.35" width="28.32" height="18.82" fill="#e7effd"/>
<rect x="538.18" y="855.35" width="28.32" height="18.82" fill="#e3edfc"/>
<rect x="566.50" y="855.35" width="28.32" height="18.82" fill="#e3edfc"/>
<rect x="594.83" y="855.35" width="28.32" height="18.82" fill="#ebf1fe"/>
<rect x="623.15" y="855.35" width="28.32" height="18.82" fill="#eff3ff"/>
<rect x="651.48" y="855.35" width="28.32" height="18.82" fill="#eff3ff"/>
<rect x="85.00" y="874.17" width="28.32" height="18.82" fill="#eff3ff"/>
<rect x="113.32" y="874.17" width="28.32" height="18.82" fill="#eff3ff"/>
<rect x="141.65" y="874.17" width="28.32" height="18.82" fill="#d7e8f8"/>
<rect x="169.97" y="874.17" width="28.32" height="18.82" fill="#eff3ff"/>
<rect x="198.30" y="874.17" width="28.32" height="18.82" fill="#eff3ff"/>
<rect x="226.62" y="874.17" width="28.32" height="18.82" fill="#e7effd"/>
<rect x="254.94" y="874.17" width="28.32" height="18.82" fill="#ebf1fe"/>
<rect x="283.27" y="874.17" width="28.32" height="18.82" fill="#eff3ff"/>
<rect x="311.59" y="874.17" width="28.32" height="18.82" fill="#eff3ff"/>
<rect x="339.91" y="874.17" width="28.32" height="18.82" fill="#eff3ff"/>
<rect x="368.24" y="874.17" width="28.32" height="18.82" fill="#eff3ff"/>
<rect x="396.56" y="874.17" width="28.32" height="18.82" fill="#ebf1fe"/>
<rect x="424.89" y="874.17" width="28.32" height="18.82" fill="#ebf1fe"/>
<rect x="453.21" y="874.17" width="28.32" height="18.82" fill="#dfecfb"/>
<rect x="481.53" y="874.17" width="28.32" height="18.82" fill="#eff3ff"/>
<rect x="509.86" y="874.17" width="28.32" height="18.82" fill="#dbeaf9"/>
<rect x="538.18" y="874.17" width="28.32" height="18.82" fill="#cfe4f6"/>
<rect x="566.50" y="874.17" width="28.32" height="18.82" fill="#dbeaf9"/>
<rect x="594.83" y="874.17" width="28.32" height="18.82" fill="#e3edfc"/>
<rect x="623.15" y="874.17" width="28.32" height="18.82" fill="#ebf1fe"/>
<rect x="651.48" y="874.17" width="28.32" height="18.82" fill="#ebf1fe"/>
<rect x="85.00" y="893.00" width="28.32" height="18.82" fill="#ebf1fe"/>
<rect x="113.32" y="893.00" width="28.32" height="18.82" fill="#eff3ff"/>
<rect x="141.65" y="893.00" width="28.32" height="18.82" fill="#bfddf2"/>
<rect x="169.97" y="893.00" width="28.32" height="18.82" fill="#eff3ff"/>
<rect x="198.30" y="893.00" width="28.32" height="18.82" fill="#eff3ff"/>
<rect x="226.62" y="893.00" width="28.32" height="18.82" fill="#dbeaf9"/>
<rect x="254.94" y="893.00" width="28.32" height="18.82" fill="#dfecfb"/>
<rect x="283.27" y="893.00" width="28.32" height="18.82" fill="#ebf1fe"/>
<rect x="311.59" y="893.00" width="28.32" height="18.82" fill="#eff3ff"/>
<rect x="339.91" y="893.00" width="28.32" height="18.82" fill="#eff3ff"/>
<rect x="368.24" y="893.00" width="28.32" height="18.82" fill="#ebf1fe"/>
<rect x="396.56" y="893.00" width="28.32" height="18.82" fill="#e7effd"/>
<rect x="424.89" y="893.00" width="28.32" height="18.82" fill="#e7effd"/>
<rect x="453.21" y="893.00" width="28.32" height="18.82" fill="#dbeaf9"/>
<rect x="481.53" y="893.00" width="28.32" height="18.82" fill="#ebf1fe"/>
<rect x="509.86" y="893.00" width="28.32" height="18.82" fill="#c7e0f4"/>
<rect x="538.18" y="893.00" width="28.32" height="18.82" fill="#a7d1eb"/>
<rect x="566.50" y="893.00" width="28.32" height="18.82" fill="#bbdbf1"/>
<rect x="594.83" y="893.00" width="28.32" height="18.82" fill="#d7e8f8"/>
<rect x="623.15" y="893.00" width="28.32" height="18.82" fill="#e3edfc"/>
<rect x="651.48" y="893.00" width="28.32" height="18.82" fill="#e7effd"/>
<rect x="85.00" y="911.82" width="28.32" height="18.82" fill="#e7effd"/>
<rect x="113.32" y="911.82" width="28.32" height="18.82" fill="#ebf1fe"/>
<rect x="141.65" y="911.82" width="28.32" height="18.82" fill="#9dcce8"/>
<rect x="169.97" y="911.82" width="28.32" height="18.82" fill="#eff3ff"/>
<rect x="198.30" y="911.82" width="28.32" height="18.82" fill="#ebf1fe"/>
<rect x="226.62" y="911.82" width="28.32" height="18.82" fill="#cbe2f5"/>
<rect x="254.94" y="911.82" width="28.32" height="18.82" fill="#dfecfb"/>
<rect x="283.27" y="911.82" width="28.32" height="18.82" fill="#dfecfb"/>
<rect x="311.59" y="911.82" width="28.32" height="18.82" fill="#eff3ff"/>
<rect x="339.91" y="911.82" width="28.32" height="18.82" fill="#eff3ff"/>
<rect x="368.24" y="911.82" width="28.32" height="18.82" fill="#e7effd"/>
<rect x="396.56" y="911.82" width="28.32" height="18.82" fill="#e3edfc"/>
<rect x="424.89" y="911.82" width="28.32" height="18.82" fill="#dfecfb"/>
<rect x="453.21" y="911.82" width="28.32" height="18.82" fill="#b7d9ef"/>
<rect x="481.53" y="911.82" width="28.32" height="18.82" fill="#e7effd"/>
<rect x="509.86" y="911.82" width="28.32" height="18.82" fill="#abd3ec"/>
<rect x="538.18" y="911.82" width="28.32" height="18.82" fill="#76b5df"/>
<rect x="566.50" y="911.82" width="28.32" height="18.82" fill="#92c6e6"/>
<rect x="594.83" y="911.82" width="28.32" height="18.82" fill="#bbdbf1"/>
<rect x="623.15" y="911.82" width="28.32" height="18.82" fill="#d3e6f7"/>
<rect x="651.48" y="911.82" width="28.32" height="18.82" fill="#dbeaf9"/>
<rect x="85.00" y="930.65" width="28.32" height="18.82" fill="#dbeaf9"/>
<rect x="113.32" y="930.65" width="28.32" height="18.82" fill="#e3edfc"/>
<rect x="141.65" y="930.65" width="28.32" height="18.82" fill="#76b5df"/>
<rect x="169.97" y="930.65" width="28.32" height="18.82" fill="#ebf1fe"/>
<rect x="198.30" y="930.65" width="28.32" height="18.82" fill="#ebf1fe"/>
<rect x="226.62" y="930.65" width="28.32" height="18.82" fill="#afd5ed"/>
<rect x="254.94" y="930.65" width="28.32" height="18.82" fill="#cfe4f6"/>
<rect x="283.27" y="930.65" width="28.32" height="18.82" fill="#bfddf2"/>
<rect x="311.59" y="930.65" width="28.32" height="18.82" fill="#ebf1fe"/>
<rect x="339.91" y="930.65" width="28.32" height="18.82" fill="#eff3ff"/>
<rect x="368.24" y="930.65" width="28.32" height="18.82" fill="#dfecfb"/>
<rect x="396.56" y="930.65" width="28.32" height="18.82" fill="#d7e8f8"/>
<rect x="424.89" y="930.65" width="28.32" height="18.82" fill="#cbe2f5"/>
<rect x="453.21" y="930.65" width="28.32" height="18.82" fill="#9acae8"/>
<rect x="481.53" y="930.65" width="28.32" height="18.82" fill="#dbeaf9"/>
<rect x="509.86" y="930.65" width="28.32" height="18.82" fill="#7bb9e0"/>
<rect x="538.18" y="930.65" width="28.32" height="18.82" fill="#5192bb"/>
<rect x="566.50" y="930.65" width="28.32" height="18.82" fill="#66acda"/>
<rect x="594.83" y="930.65" width="28.32" height="18.82" fill="#9acae8"/>
<rect x="623.15" y="930.65" width="28.32" height="18.82" fill="#abd3ec"/>
<rect x="651.48" y="930.65" width="28.32" height="18.82" fill="#cbe2f5"/>
<rect x="85.00" y="949.47" width="28.32" height="18.82" fill="#cbe2f5"/>
<rect x="113.32" y="949.47" width="28.32" height="18.82" fill="#d3e6f7"/>
<rect x="141.65" y="949.47" width="28.32" height="18.82" fill="#77919f"/>
<rect x="169.97" y="949.47" width="28.32" height="18.82" fill="#e7effd"/>
<rect x="198.30" y="949.47" width="28.32" height="18.82" fill="#e3edfc"/>
<rect x="226.62" y="949.47" width="28.32" height="18.82" fill="#81bce2"/>
<rect x="254.94" y="949.47" width="28.32" height="18.82" fill="#76b5df"/>
<rect x="283.27" y="949.47" width="28.32" height="18.82" fill="#89c1e4"/>
<rect x="311.59" y="949.47" width="28.32" height="18.82" fill="#e7effd"/>
<rect x="339.91" y="949.47" width="28.32" height="18.82" fill="#cbe2f5"/>
<rect x="368.24" y="949.47" width="28.32" height="18.82" fill="#c3def3"/>
<rect x="396.56" y="949.47" width="28.32" height="18.82" fill="#b7d9ef"/>
<rect x="424.89" y="949.47" width="28.32" height="18.82" fill="#afd5ed"/>
<rect x="453.21" y="949.47" width="28.32" height="18.82" fill="#6491ad"/>
<rect x="481.53" y="949.47" width="28.32" height="18.82" fill="#bfddf2"/>
<rect x="509.86" y="949.47" width="28.32" height="18.82" fill="#5b91b4"/>
<rect x="538.18" y="949.47" width="28.32" height="18.82" fill="#ff0000"/>
<rect x="566.50" y="949.47" width="28.32" height="18.82" fill="#6d91a6"/>
<rect x="594.83" y="949.47" width="28.32" height="18.82" fill="#60a8d7"/>
<rect x="623.15" y="949.47" width="28.32" height="18.82" fill="#70b2de"/>
<rect x="651.48" y="949.47" width="28.32" height="18.82" fill="#a3cfea"/>
</g>
<g font-size="7.5" fill="#1a1a1a" stroke="#1a1a1a" stroke-width="0.2" text-anchor="middle">
<text x="99.16" y="603.91">0.00</text>
<text x="127.49" y="603.91">0.00</text>
<text x="155.81" y="603.91">0.05</text>
<text x="184.13" y="603.91">0.00</text>
<text x="212.46" y="603.91">0.00</text>
<text x="240.78" y="603.91">0.00</text>
<text x="269.10" y="603.91">0.00</text>
<text x="297.43" y="603.91">0.00</text>
<text x="325.75" y="603.91">0.00</text>
<text x="354.08" y="603.91">0.00</text>
<text x="382.40" y="603.91">0.00</text>
<text x="410.72" y="603.91">0.00</text>
<text x="439.05" y="603.91">0.00</text>
<text x="467.37" y="603.91">0.00</text>
<text x="495.70" y="603.91">0.00</text>
<text x="524.02" y="603.91">0.01</text>
<text x="552.34" y="603.91">0.00</text>
<text x="580.67" y="603.91">0.00</text>
<text x="608.99" y="603.91">0.00</text>
<text x="637.31" y="603.91">0.00</text>
<text x="665.64" y="603.91">0.00</text>
<text x="99.16" y="622.74">0.00</text>
<text x="127.49" y="622.74">0.00</text>
<text x="155.81" y="622.74">0.04</text>
<text x="184.13" y="622.74">0.00</text>
<text x="212.46" y="622.74">0.00</text>
<text x="240.78" y="622.74">0.00</text>
<text x="269.10" y="622.74">0.00</text>
<text x="297.43" y="622.74">0.00</text>
<text x="325.75" y="622.74">0.00</text>
<text x="354.08" y="622.74">0.00</text>
<text x="382.40" y="622.74">0.00</text>
<text x="410.72" y="622.74">0.00</text>
<text x="439.05" y="622.74">0.00</text>
<text x="467.37" y="622.74">0.00</text>
<text x="495.70" y="622.74">0.00</text>
<text x="524.02" y="622.74">0.01</text>
<text x="552.34" y="622.74">0.00</text>
<text x="580.67" y="622.74">0.00</text>
<text x="608.99" y="622.74">0.01</text>
<text x="637.31" y="622.74">0.00</text>
<text x="665.64" y="622.74">0.00</text>
<text x="99.16" y="641.56">0.00</text>
<text x="127.49" y="641.56">0.00</text>
<text x="155.81" y="641.56">0.03</text>
<text x="184.13" y="641.56">0.00</text>
<text x="212.46" y="641.56">0.00</text>
<text x="240.78" y="641.56">0.01</text>
<text x="269.10" y="641.56">0.00</text>
<text x="297.43" y="641.56">0.00</text>
<text x="325.75" y="641.56">0.01</text>
<text x="354.08" y="641.56">0.00</text>
<text x="382.40" y="641.56">0.00</text>
<text x="410.72" y="641.56">0.00</text>
<text x="439.05" y="641.56">0.00</text>
<text x="467.37" y="641.56">0.04</text>
<text x="495.70" y="641.56">0.00</text>
<text x="524.02" y="641.56">0.03</text>
<text x="552.34" y="641.56">0.00</text>
<text x="580.67" y="641.56">0.01</text>
<text x="608.99" y="641.56">0.02</text>
<text x="637.31" y="641.56">0.00</text>
<text x="665.64" y="641.56">0.00</text>
<text x="99.16" y="660.39">0.00</text>
<text x="127.49" y="660.39">0.00</text>
<text x="155.81" y="660.39">0.05</text>
<text x="184.13" y="660.39">0.00</text>
<text x="212.46" y="660.39">0.00</text>
<text x="240.78" y="660.39">0.03</text>
<text x="269.10" y="660.39">0.00</text>
<text x="297.43" y="660.39">0.00</text>
<text x="325.75" y="660.39">0.01</text>
<text x="354.08" y="660.39">0.00</text>
<text x="382.40" y="660.39">0.00</text>
<text x="410.72" y="660.39">0.00</text>
<text x="439.05" y="660.39">0.00</text>
<text x="467.37" y="660.39">0.00</text>
<text x="495.70" y="660.39">0.00</text>
<text x="524.02" y="660.39">0.03</text>
<text x="552.34" y="660.39">0.02</text>
<text x="580.67" y="660.39">0.01</text>
<text x="608.99" y="660.39">0.03</text>
<text x="637.31" y="660.39">0.00</text>
<text x="665.64" y="660.39">0.00</text>
<text x="99.16" y="679.21">0.00</text>
<text x="127.49" y="679.21">0.00</text>
<text x="155.81" y="679.21">0.10</text>
<text x="184.13" y="679.21">0.00</text>
<text x="212.46" y="679.21">0.01</text>
<text x="240.78" y="679.21">0.04</text>
<text x="269.10" y="679.21">0.00</text>
<text x="297.43" y="679.21">0.01</text>
<text x="325.75" y="679.21">0.01</text>
<text x="354.08" y="679.21">0.00</text>
<text x="382.40" y="679.21">0.00</text>
<text x="410.72" y="679.21">0.01</text>
<text x="439.05" y="679.21">0.01</text>
<text x="467.37" y="679.21">0.04</text>
<text x="495.70" y="679.21">0.00</text>
<text x="524.02" y="679.21">0.04</text>
<text x="552.34" y="679.21">0.02</text>
<text x="580.67" y="679.21">0.03</text>
<text x="608.99" y="679.21">0.04</text>
<text x="637.31" y="679.21">0.00</text>
<text x="665.64" y="679.21">0.00</text>
<text x="99.16" y="698.04">0.00</text>
<text x="127.49" y="698.04">0.00</text>
<text x="155.81" y="698.04">0.08</text>
<text x="184.13" y="698.04">0.00</text>
<text x="212.46" y="698.04">0.00</text>
<text x="240.78" y="698.04">0.06</text>
<text x="269.10" y="698.04">0.01</text>
<text x="297.43" y="698.04">0.01</text>
<text x="325.75" y="698.04">0.01</text>
<text x="354.08" y="698.04">0.00</text>
<text x="382.40" y="698.04">0.01</text>
<text x="410.72" y="698.04">0.01</text>
<text x="439.05" y="698.04">0.01</text>
<text x="467.37" y="698.04">0.00</text>
<text x="495.70" y="698.04">0.01</text>
<text x="524.02" y="698.04">0.10</text>
<text x="552.34" y="698.04">0.03</text>
<text x="580.67" y="698.04">0.05</text>
<text x="608.99" y="698.04">0.06</text>
<text x="637.31" y="698.04">0.00</text>
<text x="665.64" y="698.04">0.00</text>
<text x="99.16" y="716.86">0.00</text>
<text x="127.49" y="716.86">0.00</text>
<text x="155.81" y="716.86">0.20</text>
<text x="184.13" y="716.86">0.00</text>
<text x="212.46" y="716.86">0.01</text>
<text x="240.78" y="716.86">0.08</text>
<text x="269.10" y="716.86">0.01</text>
<text x="297.43" y="716.86">0.02</text>
<text x="325.75" y="716.86">0.02</text>
<text x="354.08" y="716.86">0.00</text>
<text x="382.40" y="716.86">0.01</text>
<text x="410.72" y="716.86">0.02</text>
<text x="439.05" y="716.86">0.02</text>
<text x="467.37" y="716.86">0.10</text>
<text x="495.70" y="716.86">0.00</text>
<text x="524.02" y="716.86">0.10</text>
<text x="552.34" y="716.86">0.05</text>
<text x="580.67" y="716.86">0.06</text>
<text x="608.99" y="716.86">0.08</text>
<text x="637.31" y="716.86">0.01</text>
<text x="665.64" y="716.86">0.01</text>
<text x="99.16" y="735.69">0.01</text>
<text x="127.49" y="735.69">0.00</text>
<text x="155.81" y="735.69">0.25</text>
<text x="184.13" y="735.69">0.00</text>
<text x="212.46" y="735.69">0.02</text>
<text x="240.78" y="735.69">0.09</text>
<text x="269.10" y="735.69">0.03</text>
<text x="297.43" y="735.69">0.03</text>
<text x="325.75" y="735.69">0.03</text>
<text x="354.08" y="735.69">0.00</text>
<text x="382.40" y="735.69">0.01</text>
<text x="410.72" y="735.69">0.02</text>
<text x="439.05" y="735.69">0.02</text>
<text x="467.37" y="735.69">0.07</text>
<text x="495.70" y="735.69">0.00</text>
<text x="524.02" y="735.69">0.14</text>
<text x="552.34" y="735.69">0.08</text>
<text x="580.67" y="735.69">0.10</text>
<text x="608.99" y="735.69">0.11</text>
<text x="637.31" y="735.69">0.01</text>
<text x="665.64" y="735.69">0.00</text>
<text x="99.16" y="754.51">0.02</text>
<text x="127.49" y="754.51">0.01</text>
<text x="155.81" y="754.51">0.35</text>
<text x="184.13" y="754.51">0.00</text>
<text x="212.46" y="754.51">0.03</text>
<text x="240.78" y="754.51">0.15</text>
<text x="269.10" y="754.51">0.06</text>
<text x="297.43" y="754.51">0.03</text>
<text x="325.75" y="754.51">0.04</text>
<text x="354.08" y="754.51">0.01</text>
<text x="382.40" y="754.51">0.02</text>
<text x="410.72" y="754.51">0.05</text>
<text x="439.05" y="754.51">0.05</text>
<text x="467.37" y="754.51">0.19</text>
<text x="495.70" y="754.51">0.00</text>
<text x="524.02" y="754.51">0.21</text>
<text x="552.34" y="754.51">0.14</text>
<text x="580.67" y="754.51">0.15</text>
<text x="608.99" y="754.51">0.16</text>
<text x="637.31" y="754.51">0.02</text>
<text x="665.64" y="754.51">0.00</text>
<text x="99.16" y="773.34">0.00</text>
<text x="127.49" y="773.34">0.00</text>
<text x="155.81" y="773.34">0.04</text>
<text x="184.13" y="773.34">0.00</text>
<text x="212.46" y="773.34">0.00</text>
<text x="240.78" y="773.34">0.00</text>
<text x="269.10" y="773.34">0.00</text>
<text x="297.43" y="773.34">0.00</text>
<text x="325.75" y="773.34">0.00</text>
<text x="354.08" y="773.34">0.00</text>
<text x="382.40" y="773.34">0.00</text>
<text x="410.72" y="773.34">0.00</text>
<text x="439.05" y="773.34">0.00</text>
<text x="467.37" y="773.34">0.00</text>
<text x="495.70" y="773.34">0.00</text>
<text x="524.02" y="773.34">0.00</text>
<text x="552.34" y="773.34">0.00</text>
<text x="580.67" y="773.34">0.00</text>
<text x="608.99" y="773.34">0.00</text>
<text x="637.31" y="773.34">0.00</text>
<text x="665.64" y="773.34">0.00</text>
<text x="99.16" y="792.16">0.04</text>
<text x="127.49" y="792.16">0.01</text>
<text x="155.81" y="792.16">0.70</text>
<text x="184.13" y="792.16">0.00</text>
<text x="212.46" y="792.16">0.04</text>
<text x="240.78" y="792.16">0.26</text>
<text x="269.10" y="792.16">0.14</text>
<text x="297.43" y="792.16">0.03</text>
<text x="325.75" y="792.16">0.06</text>
<text x="354.08" y="792.16">0.02</text>
<text x="382.40" y="792.16">0.03</text>
<text x="410.72" y="792.16">0.09</text>
<text x="439.05" y="792.16">0.07</text>
<text x="467.37" y="792.16">0.20</text>
<text x="495.70" y="792.16">0.05</text>
<text x="524.02" y="792.16">0.36</text>
<text x="552.34" y="792.16">0.40</text>
<text x="580.67" y="792.16">0.24</text>
<text x="608.99" y="792.16">0.27</text>
<text x="637.31" y="792.16">0.04</text>
<text x="665.64" y="792.16">0.01</text>
<text x="99.16" y="810.99">0.06</text>
<text x="127.49" y="810.99">0.02</text>
<text x="155.81" y="810.99">1.10</text>
<text x="184.13" y="810.99">0.00</text>
<text x="212.46" y="810.99">0.06</text>
<text x="240.78" y="810.99">0.44</text>
<text x="269.10" y="810.99">0.24</text>
<text x="297.43" y="810.99">0.06</text>
<text x="325.75" y="810.99">0.07</text>
<text x="354.08" y="810.99">0.02</text>
<text x="382.40" y="810.99">0.05</text>
<text x="410.72" y="810.99">0.17</text>
<text x="439.05" y="810.99">0.13</text>
<text x="467.37" y="810.99">0.36</text>
<text x="495.70" y="810.99">0.07</text>
<text x="524.02" y="810.99">0.61</text>
<text x="552.34" y="810.99">0.65</text>
<text x="580.67" y="810.99">0.39</text>
<text x="608.99" y="810.99">0.41</text>
<text x="637.31" y="810.99">0.09</text>
<text x="665.64" y="810.99">0.01</text>
<text x="99.16" y="829.81">0.09</text>
<text x="127.49" y="829.81">0.02</text>
<text x="155.81" y="829.81">1.87</text>
<text x="184.13" y="829.81">0.02</text>
<text x="212.46" y="829.81">0.09</text>
<text x="240.78" y="829.81">0.66</text>
<text x="269.10" y="829.81">0.30</text>
<text x="297.43" y="829.81">0.08</text>
<text x="325.75" y="829.81">0.10</text>
<text x="354.08" y="829.81">0.01</text>
<text x="382.40" y="829.81">0.09</text>
<text x="410.72" y="829.81">0.32</text>
<text x="439.05" y="829.81">0.24</text>
<text x="467.37" y="829.81">0.32</text>
<text x="495.70" y="829.81">0.07</text>
<text x="524.02" y="829.81">1.16</text>
<text x="552.34" y="829.81">1.35</text>
<text x="580.67" y="829.81">0.69</text>
<text x="608.99" y="829.81">0.72</text>
<text x="637.31" y="829.81">0.18</text>
<text x="665.64" y="829.81">0.02</text>
<text x="99.16" y="848.64">0.23</text>
<text x="127.49" y="848.64">0.05</text>
<text x="155.81" y="848.64">3.20</text>
<text x="184.13" y="848.64">0.04</text>
<text x="212.46" y="848.64">0.19</text>
<text x="240.78" y="848.64">1.19</text>
<text x="269.10" y="848.64">0.66</text>
<text x="297.43" y="848.64">0.18</text>
<text x="325.75" y="848.64">0.17</text>
<text x="354.08" y="848.64">0.03</text>
<text x="382.40" y="848.64">0.16</text>
<text x="410.72" y="848.64">0.55</text>
<text x="439.05" y="848.64">0.52</text>
<text x="467.37" y="848.64">1.08</text>
<text x="495.70" y="848.64">0.43</text>
<text x="524.02" y="848.64">2.22</text>
<text x="552.34" y="848.64">2.75</text>
<text x="580.67" y="848.64">1.52</text>
<text x="608.99" y="848.64">1.24</text>
<text x="637.31" y="848.64">0.40</text>
<text x="665.64" y="848.64">0.17</text>
<text x="99.16" y="867.46">0.56</text>
<text x="127.49" y="867.46">0.17</text>
<text x="155.81" y="867.46">5.79</text>
<text x="184.13" y="867.46">0.07</text>
<text x="212.46" y="867.46">0.34</text>
<text x="240.78" y="867.46">2.27</text>
<text x="269.10" y="867.46">1.37</text>
<text x="297.43" y="867.46">0.45</text>
<text x="325.75" y="867.46">0.26</text>
<text x="354.08" y="867.46">0.06</text>
<text x="382.40" y="867.46">0.34</text>
<text x="410.72" y="867.46">1.04</text>
<text x="439.05" y="867.46">0.99</text>
<text x="467.37" y="867.46">3.32</text>
<text x="495.70" y="867.46">0.75</text>
<text x="524.02" y="867.46">4.73</text>
<text x="552.34" y="867.46">6.36</text>
<text x="580.67" y="867.46">5.58</text>
<text x="608.99" y="867.46">2.55</text>
<text x="637.31" y="867.46">0.94</text>
<text x="665.64" y="867.46">0.87</text>
<text x="99.16" y="886.29">1.07</text>
<text x="127.49" y="886.29">0.50</text>
<text x="155.81" y="886.29">12.40</text>
<text x="184.13" y="886.29">0.17</text>
<text x="212.46" y="886.29">0.74</text>
<text x="240.78" y="886.29">5.11</text>
<text x="269.10" y="886.29">3.11</text>
<text x="297.43" y="886.29">1.09</text>
<text x="325.75" y="886.29">0.43</text>
<text x="354.08" y="886.29">0.14</text>
<text x="382.40" y="886.29">0.98</text>
<text x="410.72" y="886.29">2.39</text>
<text x="439.05" y="886.29">1.99</text>
<text x="467.37" y="886.29">8.16</text>
<text x="495.70" y="886.29">0.99</text>
<text x="524.02" y="886.29">9.76</text>
<text x="552.34" y="886.29">15.91</text>
<text x="580.67" y="886.29">9.70</text>
<text x="608.99" y="886.29">5.95</text>
<text x="637.31" y="886.29">2.46</text>
<text x="665.64" y="886.29">1.89</text>
<text x="99.16" y="905.11">2.17</text>
<text x="127.49" y="905.11">1.24</text>
<text x="155.81" y="905.11">21.80</text>
<text x="184.13" y="905.11">0.43</text>
<text x="212.46" y="905.11">1.45</text>
<text x="240.78" y="905.11">9.24</text>
<text x="269.10" y="905.11">8.02</text>
<text x="297.43" y="905.11">3.27</text>
<text x="325.75" y="905.11">0.65</text>
<text x="354.08" y="905.11">1.17</text>
<text x="382.40" y="905.11">2.12</text>
<text x="410.72" y="905.11">4.29</text>
<text x="439.05" y="905.11">3.79</text>
<text x="467.37" y="905.11">10.15</text>
<text x="495.70" y="905.11">2.62</text>
<text x="524.02" y="905.11">19.46</text>
<text x="552.34" y="905.11">33.26</text>
<text x="580.67" y="905.11">23.82</text>
<text x="608.99" y="905.11">12.45</text>
<text x="637.31" y="905.11">6.15</text>
<text x="665.64" y="905.11">4.07</text>
<text x="99.16" y="923.94">4.86</text>
<text x="127.49" y="923.94">2.91</text>
<text x="155.81" y="923.94">39.53</text>
<text x="184.13" y="923.94">0.87</text>
<text x="212.46" y="923.94">2.34</text>
<text x="240.78" y="923.94">17.78</text>
<text x="269.10" y="923.94">8.09</text>
<text x="297.43" y="923.94">9.00</text>
<text x="325.75" y="923.94">0.88</text>
<text x="354.08" y="923.94">0.54</text>
<text x="382.40" y="923.94">4.28</text>
<text x="410.72" y="923.94">7.13</text>
<text x="439.05" y="923.94">7.96</text>
<text x="467.37" y="923.94">26.17</text>
<text x="495.70" y="923.94">4.54</text>
<text x="524.02" y="923.94">31.59</text>
<text x="552.34" y="923.94">64.78</text>
<text x="580.67" y="923.94">45.32</text>
<text x="608.99" y="923.94">23.99</text>
<text x="637.31" y="923.94">14.02</text>
<text x="665.64" y="923.94">9.05</text>
<text x="99.16" y="942.76">9.75</text>
<text x="127.49" y="942.76">5.77</text>
<text x="155.81" y="942.76">63.91</text>
<text x="184.13" y="942.76">2.09</text>
<text x="212.46" y="942.76">3.34</text>
<text x="240.78" y="942.76">30.41</text>
<text x="269.10" y="942.76">15.23</text>
<text x="297.43" y="942.76">21.85</text>
<text x="325.75" y="942.76">1.93</text>
<text x="354.08" y="942.76">1.33</text>
<text x="382.40" y="942.76">8.72</text>
<text x="410.72" y="942.76">11.52</text>
<text x="439.05" y="942.76">17.26</text>
<text x="467.37" y="942.76">39.95</text>
<text x="495.70" y="942.76">9.30</text>
<text x="524.02" y="942.76">60.96</text>
<text x="552.34" y="942.76">111.35</text>
<text x="580.67" y="942.76">74.53</text>
<text x="608.99" y="942.76">40.04</text>
<text x="637.31" y="942.76">30.90</text>
<text x="665.64" y="942.76">16.76</text>
<text x="99.16" y="961.59">17.75</text>
<text x="127.49" y="961.59">13.86</text>
<text x="155.81" y="961.59">118.41</text>
<text x="184.13" y="961.59">3.78</text>
<text x="212.46" y="961.59">5.95</text>
<text x="240.78" y="961.59">57.41</text>
<text x="269.10" y="961.59">64.60</text>
<text x="297.43" y="961.59">50.58</text>
<text x="325.75" y="961.59">3.66</text>
<text x="354.08" y="961.59">17.43</text>
<text x="382.40" y="961.59">20.45</text>
<text x="410.72" y="961.59">25.46</text>
<text x="439.05" y="961.59">28.84</text>
<text x="467.37" y="961.59">114.42</text>
<text x="495.70" y="961.59">22.73</text>
<text x="524.02" y="961.59">112.36</text>
<text x="552.34" y="961.59">180.07</text>
<text x="580.67" y="961.59">116.72</text>
<text x="608.99" y="961.59">79.86</text>
<text x="637.31" y="961.59">67.68</text>
<text x="665.64" y="961.59">35.86</text>
</g>
<g font-size="9.2" fill="#111" stroke="#111" stroke-width="0.2">
<text x="682.9" y="604.46">1<tspan dy="0.8">−</tspan><tspan dy="-0.8">4</tspan></text>
<text x="682.9" y="623.29">5<tspan dy="0.8">−</tspan><tspan dy="-0.8">9</tspan></text>
<text x="682.9" y="642.11">10<tspan dy="0.8">−</tspan><tspan dy="-0.8">14</tspan></text>
<text x="682.9" y="660.94">15<tspan dy="0.8">−</tspan><tspan dy="-0.8">19</tspan></text>
<text x="682.9" y="679.76">20<tspan dy="0.8">−</tspan><tspan dy="-0.8">24</tspan></text>
<text x="682.9" y="698.59">25<tspan dy="0.8">−</tspan><tspan dy="-0.8">29</tspan></text>
<text x="682.9" y="717.41">30<tspan dy="0.8">−</tspan><tspan dy="-0.8">34</tspan></text>
<text x="682.9" y="736.24">35<tspan dy="0.8">−</tspan><tspan dy="-0.8">39</tspan></text>
<text x="682.9" y="755.06">40<tspan dy="0.8">−</tspan><tspan dy="-0.8">44</tspan></text>
<text x="682.9" y="773.89">45<tspan dy="0.8">−</tspan><tspan dy="-0.8">49</tspan></text>
<text x="682.9" y="792.71">50<tspan dy="0.8">−</tspan><tspan dy="-0.8">54</tspan></text>
<text x="682.9" y="811.54">55<tspan dy="0.8">−</tspan><tspan dy="-0.8">59</tspan></text>
<text x="682.9" y="830.36">60<tspan dy="0.8">−</tspan><tspan dy="-0.8">64</tspan></text>
<text x="682.9" y="849.19">65<tspan dy="0.8">−</tspan><tspan dy="-0.8">69</tspan></text>
<text x="682.9" y="868.01">70<tspan dy="0.8">−</tspan><tspan dy="-0.8">74</tspan></text>
<text x="682.9" y="886.84">75<tspan dy="0.8">−</tspan><tspan dy="-0.8">79</tspan></text>
<text x="682.9" y="905.66">80<tspan dy="0.8">−</tspan><tspan dy="-0.8">84</tspan></text>
<text x="682.9" y="924.49">85<tspan dy="0.8">−</tspan><tspan dy="-0.8">89</tspan></text>
<text x="682.9" y="943.31">90<tspan dy="0.8">−</tspan><tspan dy="-0.8">94</tspan></text>
<text x="682.9" y="962.14">95+</text>
</g>
<g font-size="9.5" fill="#111" stroke="#111" stroke-width="0.2">
<text transform="translate(95.56,971.00) rotate(90)">East Asia</text>
<text transform="translate(123.89,971.00) rotate(90)">Southeast Asia</text>
<text transform="translate(152.21,971.00) rotate(90)">Central Asia</text>
<text transform="translate(180.53,971.00) rotate(90)">South Asia</text>
<text transform="translate(208.86,971.00) rotate(90)">High<tspan dy="0.6">−</tspan><tspan dy="-0.6">income Asia Pacific</tspan></text>
<text transform="translate(237.18,971.00) rotate(90)">Australasia</text>
<text transform="translate(265.50,971.00) rotate(90)">Central Europe</text>
<text transform="translate(293.83,971.00) rotate(90)">Eastern Europe</text>
<text transform="translate(322.15,971.00) rotate(90)">Western Europe</text>
<text transform="translate(350.48,971.00) rotate(90)">Southern Latin America</text>
<text transform="translate(378.80,971.00) rotate(90)">Andean Latin America</text>
<text transform="translate(407.12,971.00) rotate(90)">Central Latin America</text>
<text transform="translate(435.45,971.00) rotate(90)">Tropical Latin America</text>
<text transform="translate(463.77,971.00) rotate(90)">High<tspan dy="0.6">−</tspan><tspan dy="-0.6">income North America</tspan></text>
<text transform="translate(492.10,971.00) rotate(90)">North Africa and Middle East</text>
<text transform="translate(520.42,971.00) rotate(90)">Central Sub<tspan dy="0.6">−</tspan><tspan dy="-0.6">Saharan Africa</tspan></text>
<text transform="translate(548.74,971.00) rotate(90)">Eastern Sub<tspan dy="0.6">−</tspan><tspan dy="-0.6">Saharan Africa</tspan></text>
<text transform="translate(577.07,971.00) rotate(90)">Southern Sub<tspan dy="0.6">−</tspan><tspan dy="-0.6">Saharan Africa</tspan></text>
<text transform="translate(605.39,971.00) rotate(90)">Western Sub<tspan dy="0.6">−</tspan><tspan dy="-0.6">Saharan Africa</tspan></text>
<text transform="translate(633.71,971.00) rotate(90)">Caribbean</text>
<text transform="translate(662.04,971.00) rotate(90)">Oceania</text>
</g>
</svg>
</body></html>
